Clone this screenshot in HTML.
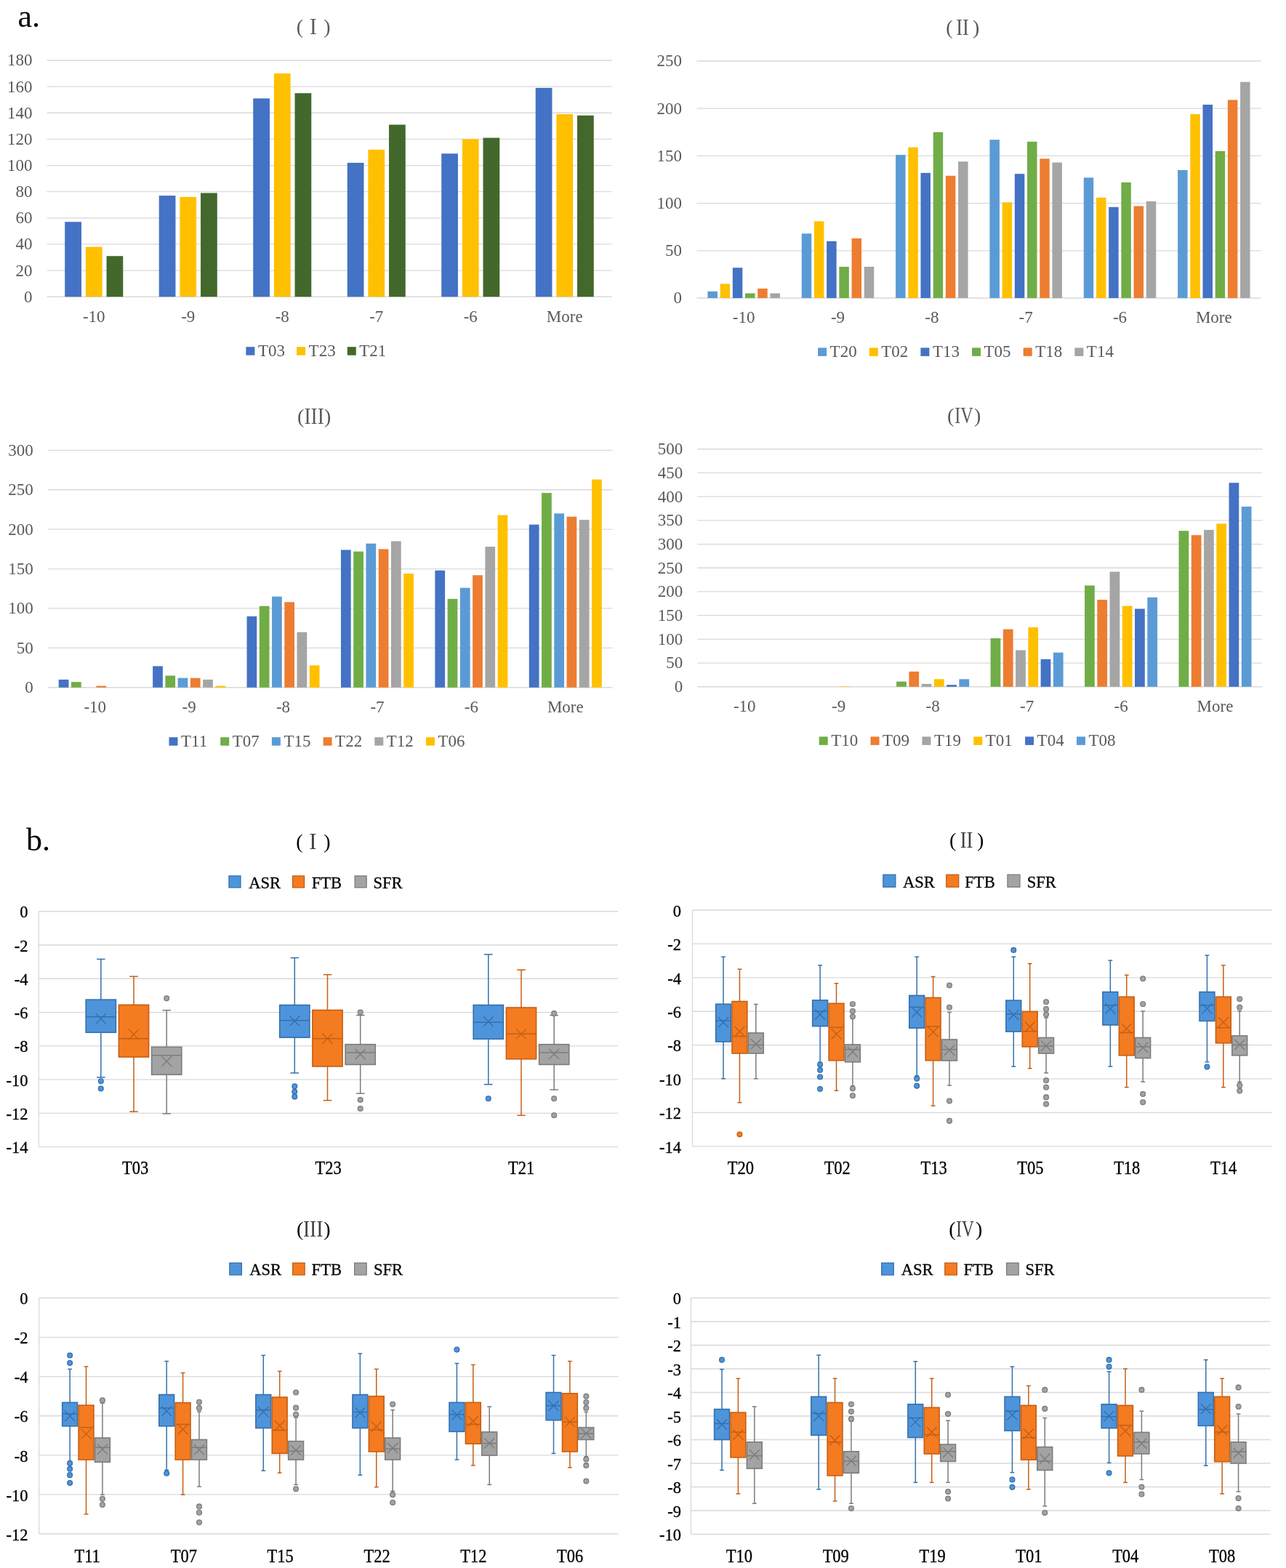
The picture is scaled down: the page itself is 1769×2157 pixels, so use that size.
<!DOCTYPE html>
<html><head><meta charset="utf-8"><title>Figure</title>
<style>html,body{margin:0;padding:0;background:#fff;}svg{display:block;}</style>
</head><body>
<svg width="1769" height="2157" viewBox="0 0 1769 2157" font-family="'Liberation Serif','Times New Roman',serif">
<rect width="1769" height="2157" fill="#fff"/>
<text x="24.5" y="37.2" font-size="44" fill="#000">a.</text>
<text x="36" y="1170" font-size="44" fill="#000">b.</text>
<line x1="64.5" y1="408.25" x2="841.5" y2="408.25" stroke="#d9d9d9" stroke-width="1.3"/>
<text transform="translate(44.5 415.65) scale(1 1.04)" font-size="23" fill="#595959" text-anchor="end">0</text>
<line x1="64.5" y1="372.11" x2="841.5" y2="372.11" stroke="#d9d9d9" stroke-width="1.3"/>
<text transform="translate(44.5 379.51) scale(1 1.04)" font-size="23" fill="#595959" text-anchor="end">20</text>
<line x1="64.5" y1="335.97" x2="841.5" y2="335.97" stroke="#d9d9d9" stroke-width="1.3"/>
<text transform="translate(44.5 343.37) scale(1 1.04)" font-size="23" fill="#595959" text-anchor="end">40</text>
<line x1="64.5" y1="299.83" x2="841.5" y2="299.83" stroke="#d9d9d9" stroke-width="1.3"/>
<text transform="translate(44.5 307.23) scale(1 1.04)" font-size="23" fill="#595959" text-anchor="end">60</text>
<line x1="64.5" y1="263.69" x2="841.5" y2="263.69" stroke="#d9d9d9" stroke-width="1.3"/>
<text transform="translate(44.5 271.09) scale(1 1.04)" font-size="23" fill="#595959" text-anchor="end">80</text>
<line x1="64.5" y1="227.55" x2="841.5" y2="227.55" stroke="#d9d9d9" stroke-width="1.3"/>
<text transform="translate(44.5 234.95) scale(1 1.04)" font-size="23" fill="#595959" text-anchor="end">100</text>
<line x1="64.5" y1="191.41" x2="841.5" y2="191.41" stroke="#d9d9d9" stroke-width="1.3"/>
<text transform="translate(44.5 198.81) scale(1 1.04)" font-size="23" fill="#595959" text-anchor="end">120</text>
<line x1="64.5" y1="155.27" x2="841.5" y2="155.27" stroke="#d9d9d9" stroke-width="1.3"/>
<text transform="translate(44.5 162.67) scale(1 1.04)" font-size="23" fill="#595959" text-anchor="end">140</text>
<line x1="64.5" y1="119.13" x2="841.5" y2="119.13" stroke="#d9d9d9" stroke-width="1.3"/>
<text transform="translate(44.5 126.53) scale(1 1.04)" font-size="23" fill="#595959" text-anchor="end">160</text>
<line x1="64.5" y1="82.99" x2="841.5" y2="82.99" stroke="#d9d9d9" stroke-width="1.3"/>
<text transform="translate(44.5 90.39) scale(1 1.04)" font-size="23" fill="#595959" text-anchor="end">180</text>
<rect x="89.22" y="305.25" width="22.75" height="103" fill="#4472C4"/>
<rect x="117.88" y="339.58" width="22.75" height="68.67" fill="#FFC000"/>
<rect x="146.52" y="352.23" width="22.75" height="56.02" fill="#43682B"/>
<text transform="translate(129.25 442.5) scale(1 1.04)" font-size="23" fill="#595959" text-anchor="middle">-10</text>
<rect x="218.72" y="269.11" width="22.75" height="139.14" fill="#4472C4"/>
<rect x="247.38" y="270.92" width="22.75" height="137.33" fill="#FFC000"/>
<rect x="276.02" y="265.5" width="22.75" height="142.75" fill="#43682B"/>
<text transform="translate(258.75 442.5) scale(1 1.04)" font-size="23" fill="#595959" text-anchor="middle">-9</text>
<rect x="348.23" y="135.39" width="22.75" height="272.86" fill="#4472C4"/>
<rect x="376.88" y="101.06" width="22.75" height="307.19" fill="#FFC000"/>
<rect x="405.53" y="128.17" width="22.75" height="280.08" fill="#43682B"/>
<text transform="translate(388.25 442.5) scale(1 1.04)" font-size="23" fill="#595959" text-anchor="middle">-8</text>
<rect x="477.73" y="223.94" width="22.75" height="184.31" fill="#4472C4"/>
<rect x="506.38" y="205.87" width="22.75" height="202.38" fill="#FFC000"/>
<rect x="535.02" y="171.53" width="22.75" height="236.72" fill="#43682B"/>
<text transform="translate(517.75 442.5) scale(1 1.04)" font-size="23" fill="#595959" text-anchor="middle">-7</text>
<rect x="607.23" y="211.29" width="22.75" height="196.96" fill="#4472C4"/>
<rect x="635.88" y="191.41" width="22.75" height="216.84" fill="#FFC000"/>
<rect x="664.52" y="189.6" width="22.75" height="218.65" fill="#43682B"/>
<text transform="translate(647.25 442.5) scale(1 1.04)" font-size="23" fill="#595959" text-anchor="middle">-6</text>
<rect x="736.73" y="120.94" width="22.75" height="287.31" fill="#4472C4"/>
<rect x="765.38" y="157.08" width="22.75" height="251.17" fill="#FFC000"/>
<rect x="794.02" y="158.88" width="22.75" height="249.37" fill="#43682B"/>
<text transform="translate(776.75 442.5) scale(1 1.04)" font-size="23" fill="#595959" text-anchor="middle">More</text>
<rect x="338.4" y="477.2" width="12" height="11.5" fill="#4472C4"/>
<text transform="translate(354.9 489.8) scale(1 1.04)" font-size="23" fill="#595959">T03</text>
<rect x="408.1" y="477.2" width="12" height="11.5" fill="#FFC000"/>
<text transform="translate(424.6 489.8) scale(1 1.04)" font-size="23" fill="#595959">T23</text>
<rect x="477.8" y="477.2" width="12" height="11.5" fill="#43682B"/>
<text transform="translate(494.3 489.8) scale(1 1.04)" font-size="23" fill="#595959">T21</text>
<text x="407.8" y="46" font-size="28" fill="#595959">(</text>
<text x="445.2" y="46" font-size="28" fill="#595959">)</text>
<text x="426.1" y="46.9" font-size="32.5" fill="#595959" textLength="9.7" lengthAdjust="spacingAndGlyphs">I</text>
<line x1="958.5" y1="410" x2="1734.5" y2="410" stroke="#d9d9d9" stroke-width="1.3"/>
<text transform="translate(938 417.4) scale(1 1.04)" font-size="23" fill="#595959" text-anchor="end">0</text>
<line x1="958.5" y1="344.8" x2="1734.5" y2="344.8" stroke="#d9d9d9" stroke-width="1.3"/>
<text transform="translate(938 352.2) scale(1 1.04)" font-size="23" fill="#595959" text-anchor="end">50</text>
<line x1="958.5" y1="279.6" x2="1734.5" y2="279.6" stroke="#d9d9d9" stroke-width="1.3"/>
<text transform="translate(938 287) scale(1 1.04)" font-size="23" fill="#595959" text-anchor="end">100</text>
<line x1="958.5" y1="214.4" x2="1734.5" y2="214.4" stroke="#d9d9d9" stroke-width="1.3"/>
<text transform="translate(938 221.8) scale(1 1.04)" font-size="23" fill="#595959" text-anchor="end">150</text>
<line x1="958.5" y1="149.2" x2="1734.5" y2="149.2" stroke="#d9d9d9" stroke-width="1.3"/>
<text transform="translate(938 156.6) scale(1 1.04)" font-size="23" fill="#595959" text-anchor="end">200</text>
<line x1="958.5" y1="84" x2="1734.5" y2="84" stroke="#d9d9d9" stroke-width="1.3"/>
<text transform="translate(938 91.4) scale(1 1.04)" font-size="23" fill="#595959" text-anchor="end">250</text>
<rect x="973.42" y="400.87" width="13.5" height="9.13" fill="#5B9BD5"/>
<rect x="990.62" y="390.44" width="13.5" height="19.56" fill="#FFC000"/>
<rect x="1007.82" y="368.27" width="13.5" height="41.73" fill="#4472C4"/>
<rect x="1025.02" y="403.48" width="13.5" height="6.52" fill="#70AD47"/>
<rect x="1042.22" y="396.96" width="13.5" height="13.04" fill="#ED7D31"/>
<rect x="1059.42" y="403.48" width="13.5" height="6.52" fill="#A5A5A5"/>
<text transform="translate(1023.17 443.75) scale(1 1.04)" font-size="23" fill="#595959" text-anchor="middle">-10</text>
<rect x="1102.75" y="321.33" width="13.5" height="88.67" fill="#5B9BD5"/>
<rect x="1119.95" y="304.38" width="13.5" height="105.62" fill="#FFC000"/>
<rect x="1137.15" y="331.76" width="13.5" height="78.24" fill="#4472C4"/>
<rect x="1154.35" y="366.97" width="13.5" height="43.03" fill="#70AD47"/>
<rect x="1171.55" y="327.85" width="13.5" height="82.15" fill="#ED7D31"/>
<rect x="1188.75" y="366.97" width="13.5" height="43.03" fill="#A5A5A5"/>
<text transform="translate(1152.5 443.75) scale(1 1.04)" font-size="23" fill="#595959" text-anchor="middle">-9</text>
<rect x="1232.08" y="213.1" width="13.5" height="196.9" fill="#5B9BD5"/>
<rect x="1249.28" y="202.66" width="13.5" height="207.34" fill="#FFC000"/>
<rect x="1266.48" y="237.87" width="13.5" height="172.13" fill="#4472C4"/>
<rect x="1283.68" y="181.8" width="13.5" height="228.2" fill="#70AD47"/>
<rect x="1300.88" y="241.78" width="13.5" height="168.22" fill="#ED7D31"/>
<rect x="1318.08" y="222.22" width="13.5" height="187.78" fill="#A5A5A5"/>
<text transform="translate(1281.83 443.75) scale(1 1.04)" font-size="23" fill="#595959" text-anchor="middle">-8</text>
<rect x="1361.42" y="192.23" width="13.5" height="217.77" fill="#5B9BD5"/>
<rect x="1378.62" y="278.3" width="13.5" height="131.7" fill="#FFC000"/>
<rect x="1395.82" y="239.18" width="13.5" height="170.82" fill="#4472C4"/>
<rect x="1413.02" y="194.84" width="13.5" height="215.16" fill="#70AD47"/>
<rect x="1430.22" y="218.31" width="13.5" height="191.69" fill="#ED7D31"/>
<rect x="1447.42" y="223.53" width="13.5" height="186.47" fill="#A5A5A5"/>
<text transform="translate(1411.17 443.75) scale(1 1.04)" font-size="23" fill="#595959" text-anchor="middle">-7</text>
<rect x="1490.75" y="244.39" width="13.5" height="165.61" fill="#5B9BD5"/>
<rect x="1507.95" y="271.78" width="13.5" height="138.22" fill="#FFC000"/>
<rect x="1525.15" y="284.82" width="13.5" height="125.18" fill="#4472C4"/>
<rect x="1542.35" y="250.91" width="13.5" height="159.09" fill="#70AD47"/>
<rect x="1559.55" y="283.51" width="13.5" height="126.49" fill="#ED7D31"/>
<rect x="1576.75" y="276.99" width="13.5" height="133.01" fill="#A5A5A5"/>
<text transform="translate(1540.5 443.75) scale(1 1.04)" font-size="23" fill="#595959" text-anchor="middle">-6</text>
<rect x="1620.08" y="233.96" width="13.5" height="176.04" fill="#5B9BD5"/>
<rect x="1637.28" y="157.02" width="13.5" height="252.98" fill="#FFC000"/>
<rect x="1654.48" y="143.98" width="13.5" height="266.02" fill="#4472C4"/>
<rect x="1671.68" y="207.88" width="13.5" height="202.12" fill="#70AD47"/>
<rect x="1688.88" y="137.46" width="13.5" height="272.54" fill="#ED7D31"/>
<rect x="1706.08" y="112.69" width="13.5" height="297.31" fill="#A5A5A5"/>
<text transform="translate(1669.83 443.75) scale(1 1.04)" font-size="23" fill="#595959" text-anchor="middle">More</text>
<rect x="1125.1" y="478.4" width="12" height="11.5" fill="#5B9BD5"/>
<text transform="translate(1141.6 491) scale(1 1.04)" font-size="23" fill="#595959">T20</text>
<rect x="1195.75" y="478.4" width="12" height="11.5" fill="#FFC000"/>
<text transform="translate(1212.25 491) scale(1 1.04)" font-size="23" fill="#595959">T02</text>
<rect x="1266.4" y="478.4" width="12" height="11.5" fill="#4472C4"/>
<text transform="translate(1282.9 491) scale(1 1.04)" font-size="23" fill="#595959">T13</text>
<rect x="1337.05" y="478.4" width="12" height="11.5" fill="#70AD47"/>
<text transform="translate(1353.55 491) scale(1 1.04)" font-size="23" fill="#595959">T05</text>
<rect x="1407.7" y="478.4" width="12" height="11.5" fill="#ED7D31"/>
<text transform="translate(1424.2 491) scale(1 1.04)" font-size="23" fill="#595959">T18</text>
<rect x="1478.35" y="478.4" width="12" height="11.5" fill="#A5A5A5"/>
<text transform="translate(1494.85 491) scale(1 1.04)" font-size="23" fill="#595959">T14</text>
<text x="1301.2" y="47" font-size="28" fill="#595959">(</text>
<text x="1338" y="47" font-size="28" fill="#595959">)</text>
<text x="1315.2" y="47.7" font-size="32.5" fill="#595959" textLength="17.7" lengthAdjust="spacingAndGlyphs">II</text>
<line x1="66" y1="945.75" x2="842.5" y2="945.75" stroke="#d9d9d9" stroke-width="1.3"/>
<text transform="translate(45.75 953.15) scale(1 1.04)" font-size="23" fill="#595959" text-anchor="end">0</text>
<line x1="66" y1="891.35" x2="842.5" y2="891.35" stroke="#d9d9d9" stroke-width="1.3"/>
<text transform="translate(45.75 898.75) scale(1 1.04)" font-size="23" fill="#595959" text-anchor="end">50</text>
<line x1="66" y1="836.95" x2="842.5" y2="836.95" stroke="#d9d9d9" stroke-width="1.3"/>
<text transform="translate(45.75 844.35) scale(1 1.04)" font-size="23" fill="#595959" text-anchor="end">100</text>
<line x1="66" y1="782.55" x2="842.5" y2="782.55" stroke="#d9d9d9" stroke-width="1.3"/>
<text transform="translate(45.75 789.95) scale(1 1.04)" font-size="23" fill="#595959" text-anchor="end">150</text>
<line x1="66" y1="728.15" x2="842.5" y2="728.15" stroke="#d9d9d9" stroke-width="1.3"/>
<text transform="translate(45.75 735.55) scale(1 1.04)" font-size="23" fill="#595959" text-anchor="end">200</text>
<line x1="66" y1="673.75" x2="842.5" y2="673.75" stroke="#d9d9d9" stroke-width="1.3"/>
<text transform="translate(45.75 681.15) scale(1 1.04)" font-size="23" fill="#595959" text-anchor="end">250</text>
<line x1="66" y1="619.35" x2="842.5" y2="619.35" stroke="#d9d9d9" stroke-width="1.3"/>
<text transform="translate(45.75 626.75) scale(1 1.04)" font-size="23" fill="#595959" text-anchor="end">300</text>
<rect x="80.71" y="934.87" width="13.75" height="10.88" fill="#4472C4"/>
<rect x="97.96" y="938.13" width="13.75" height="7.62" fill="#70AD47"/>
<rect x="132.46" y="943.57" width="13.75" height="2.18" fill="#ED7D31"/>
<text transform="translate(130.71 979.5) scale(1 1.04)" font-size="23" fill="#595959" text-anchor="middle">-10</text>
<rect x="210.12" y="916.37" width="13.75" height="29.38" fill="#4472C4"/>
<rect x="227.38" y="929.43" width="13.75" height="16.32" fill="#70AD47"/>
<rect x="244.62" y="932.69" width="13.75" height="13.06" fill="#5B9BD5"/>
<rect x="261.88" y="932.69" width="13.75" height="13.06" fill="#ED7D31"/>
<rect x="279.12" y="934.87" width="13.75" height="10.88" fill="#A5A5A5"/>
<rect x="296.38" y="943.57" width="13.75" height="2.18" fill="#FFC000"/>
<text transform="translate(260.12 979.5) scale(1 1.04)" font-size="23" fill="#595959" text-anchor="middle">-9</text>
<rect x="339.54" y="847.83" width="13.75" height="97.92" fill="#4472C4"/>
<rect x="356.79" y="833.69" width="13.75" height="112.06" fill="#70AD47"/>
<rect x="374.04" y="820.63" width="13.75" height="125.12" fill="#5B9BD5"/>
<rect x="391.29" y="828.25" width="13.75" height="117.5" fill="#ED7D31"/>
<rect x="408.54" y="869.59" width="13.75" height="76.16" fill="#A5A5A5"/>
<rect x="425.79" y="915.29" width="13.75" height="30.46" fill="#FFC000"/>
<text transform="translate(389.54 979.5) scale(1 1.04)" font-size="23" fill="#595959" text-anchor="middle">-8</text>
<rect x="468.96" y="756.44" width="13.75" height="189.31" fill="#4472C4"/>
<rect x="486.21" y="758.61" width="13.75" height="187.14" fill="#70AD47"/>
<rect x="503.46" y="747.73" width="13.75" height="198.02" fill="#5B9BD5"/>
<rect x="520.71" y="755.35" width="13.75" height="190.4" fill="#ED7D31"/>
<rect x="537.96" y="744.47" width="13.75" height="201.28" fill="#A5A5A5"/>
<rect x="555.21" y="789.08" width="13.75" height="156.67" fill="#FFC000"/>
<text transform="translate(518.96 979.5) scale(1 1.04)" font-size="23" fill="#595959" text-anchor="middle">-7</text>
<rect x="598.38" y="784.73" width="13.75" height="161.02" fill="#4472C4"/>
<rect x="615.62" y="823.89" width="13.75" height="121.86" fill="#70AD47"/>
<rect x="632.88" y="808.66" width="13.75" height="137.09" fill="#5B9BD5"/>
<rect x="650.12" y="791.25" width="13.75" height="154.5" fill="#ED7D31"/>
<rect x="667.38" y="752.09" width="13.75" height="193.66" fill="#A5A5A5"/>
<rect x="684.62" y="708.57" width="13.75" height="237.18" fill="#FFC000"/>
<text transform="translate(648.38 979.5) scale(1 1.04)" font-size="23" fill="#595959" text-anchor="middle">-6</text>
<rect x="727.79" y="721.62" width="13.75" height="224.13" fill="#4472C4"/>
<rect x="745.04" y="678.1" width="13.75" height="267.65" fill="#70AD47"/>
<rect x="762.29" y="706.39" width="13.75" height="239.36" fill="#5B9BD5"/>
<rect x="779.54" y="710.74" width="13.75" height="235.01" fill="#ED7D31"/>
<rect x="796.79" y="715.09" width="13.75" height="230.66" fill="#A5A5A5"/>
<rect x="814.04" y="659.61" width="13.75" height="286.14" fill="#FFC000"/>
<text transform="translate(777.79 979.5) scale(1 1.04)" font-size="23" fill="#595959" text-anchor="middle">More</text>
<rect x="232.5" y="1014.2" width="12" height="11.5" fill="#4472C4"/>
<text transform="translate(249 1026.8) scale(1 1.04)" font-size="23" fill="#595959">T11</text>
<rect x="303.2" y="1014.2" width="12" height="11.5" fill="#70AD47"/>
<text transform="translate(319.7 1026.8) scale(1 1.04)" font-size="23" fill="#595959">T07</text>
<rect x="373.9" y="1014.2" width="12" height="11.5" fill="#5B9BD5"/>
<text transform="translate(390.4 1026.8) scale(1 1.04)" font-size="23" fill="#595959">T15</text>
<rect x="444.6" y="1014.2" width="12" height="11.5" fill="#ED7D31"/>
<text transform="translate(461.1 1026.8) scale(1 1.04)" font-size="23" fill="#595959">T22</text>
<rect x="515.3" y="1014.2" width="12" height="11.5" fill="#A5A5A5"/>
<text transform="translate(531.8 1026.8) scale(1 1.04)" font-size="23" fill="#595959">T12</text>
<rect x="586" y="1014.2" width="12" height="11.5" fill="#FFC000"/>
<text transform="translate(602.5 1026.8) scale(1 1.04)" font-size="23" fill="#595959">T06</text>
<text x="409" y="582" font-size="28" fill="#595959">(</text>
<text x="446" y="582" font-size="28" fill="#595959">)</text>
<text x="418.4" y="582.8" font-size="32.5" fill="#595959" textLength="27.4" lengthAdjust="spacingAndGlyphs">III</text>
<line x1="959.5" y1="944.75" x2="1736.25" y2="944.75" stroke="#d9d9d9" stroke-width="1.3"/>
<text transform="translate(939.25 952.15) scale(1 1.04)" font-size="23" fill="#595959" text-anchor="end">0</text>
<line x1="959.5" y1="912.05" x2="1736.25" y2="912.05" stroke="#d9d9d9" stroke-width="1.3"/>
<text transform="translate(939.25 919.45) scale(1 1.04)" font-size="23" fill="#595959" text-anchor="end">50</text>
<line x1="959.5" y1="879.35" x2="1736.25" y2="879.35" stroke="#d9d9d9" stroke-width="1.3"/>
<text transform="translate(939.25 886.75) scale(1 1.04)" font-size="23" fill="#595959" text-anchor="end">100</text>
<line x1="959.5" y1="846.65" x2="1736.25" y2="846.65" stroke="#d9d9d9" stroke-width="1.3"/>
<text transform="translate(939.25 854.05) scale(1 1.04)" font-size="23" fill="#595959" text-anchor="end">150</text>
<line x1="959.5" y1="813.95" x2="1736.25" y2="813.95" stroke="#d9d9d9" stroke-width="1.3"/>
<text transform="translate(939.25 821.35) scale(1 1.04)" font-size="23" fill="#595959" text-anchor="end">200</text>
<line x1="959.5" y1="781.25" x2="1736.25" y2="781.25" stroke="#d9d9d9" stroke-width="1.3"/>
<text transform="translate(939.25 788.65) scale(1 1.04)" font-size="23" fill="#595959" text-anchor="end">250</text>
<line x1="959.5" y1="748.55" x2="1736.25" y2="748.55" stroke="#d9d9d9" stroke-width="1.3"/>
<text transform="translate(939.25 755.95) scale(1 1.04)" font-size="23" fill="#595959" text-anchor="end">300</text>
<line x1="959.5" y1="715.85" x2="1736.25" y2="715.85" stroke="#d9d9d9" stroke-width="1.3"/>
<text transform="translate(939.25 723.25) scale(1 1.04)" font-size="23" fill="#595959" text-anchor="end">350</text>
<line x1="959.5" y1="683.15" x2="1736.25" y2="683.15" stroke="#d9d9d9" stroke-width="1.3"/>
<text transform="translate(939.25 690.55) scale(1 1.04)" font-size="23" fill="#595959" text-anchor="end">400</text>
<line x1="959.5" y1="650.45" x2="1736.25" y2="650.45" stroke="#d9d9d9" stroke-width="1.3"/>
<text transform="translate(939.25 657.85) scale(1 1.04)" font-size="23" fill="#595959" text-anchor="end">450</text>
<line x1="959.5" y1="617.75" x2="1736.25" y2="617.75" stroke="#d9d9d9" stroke-width="1.3"/>
<text transform="translate(939.25 625.15) scale(1 1.04)" font-size="23" fill="#595959" text-anchor="end">500</text>
<text transform="translate(1024.23 978.75) scale(1 1.04)" font-size="23" fill="#595959" text-anchor="middle">-10</text>
<rect x="1155.44" y="944.1" width="13.75" height="0.65" fill="#FFC000"/>
<text transform="translate(1153.69 978.75) scale(1 1.04)" font-size="23" fill="#595959" text-anchor="middle">-9</text>
<rect x="1233.15" y="937.56" width="13.75" height="7.19" fill="#70AD47"/>
<rect x="1250.4" y="923.82" width="13.75" height="20.93" fill="#ED7D31"/>
<rect x="1267.65" y="940.83" width="13.75" height="3.92" fill="#A5A5A5"/>
<rect x="1284.9" y="934.29" width="13.75" height="10.46" fill="#FFC000"/>
<rect x="1302.15" y="942.13" width="13.75" height="2.62" fill="#4472C4"/>
<rect x="1319.4" y="934.29" width="13.75" height="10.46" fill="#5B9BD5"/>
<text transform="translate(1283.15 978.75) scale(1 1.04)" font-size="23" fill="#595959" text-anchor="middle">-8</text>
<rect x="1362.6" y="878.04" width="13.75" height="66.71" fill="#70AD47"/>
<rect x="1379.85" y="865.62" width="13.75" height="79.13" fill="#ED7D31"/>
<rect x="1397.1" y="894.39" width="13.75" height="50.36" fill="#A5A5A5"/>
<rect x="1414.35" y="863" width="13.75" height="81.75" fill="#FFC000"/>
<rect x="1431.6" y="906.82" width="13.75" height="37.93" fill="#4472C4"/>
<rect x="1448.85" y="897.66" width="13.75" height="47.09" fill="#5B9BD5"/>
<text transform="translate(1412.6 978.75) scale(1 1.04)" font-size="23" fill="#595959" text-anchor="middle">-7</text>
<rect x="1492.06" y="805.45" width="13.75" height="139.3" fill="#70AD47"/>
<rect x="1509.31" y="825.07" width="13.75" height="119.68" fill="#ED7D31"/>
<rect x="1526.56" y="786.48" width="13.75" height="158.27" fill="#A5A5A5"/>
<rect x="1543.81" y="833.57" width="13.75" height="111.18" fill="#FFC000"/>
<rect x="1561.06" y="837.49" width="13.75" height="107.26" fill="#4472C4"/>
<rect x="1578.31" y="821.8" width="13.75" height="122.95" fill="#5B9BD5"/>
<text transform="translate(1542.06 978.75) scale(1 1.04)" font-size="23" fill="#595959" text-anchor="middle">-6</text>
<rect x="1621.52" y="730.24" width="13.75" height="214.51" fill="#70AD47"/>
<rect x="1638.77" y="736.12" width="13.75" height="208.63" fill="#ED7D31"/>
<rect x="1656.02" y="728.93" width="13.75" height="215.82" fill="#A5A5A5"/>
<rect x="1673.27" y="720.43" width="13.75" height="224.32" fill="#FFC000"/>
<rect x="1690.52" y="664.18" width="13.75" height="280.57" fill="#4472C4"/>
<rect x="1707.77" y="696.88" width="13.75" height="247.87" fill="#5B9BD5"/>
<text transform="translate(1671.52 978.75) scale(1 1.04)" font-size="23" fill="#595959" text-anchor="middle">More</text>
<rect x="1126.7" y="1013.4" width="12" height="11.5" fill="#70AD47"/>
<text transform="translate(1143.2 1026) scale(1 1.04)" font-size="23" fill="#595959">T10</text>
<rect x="1197.55" y="1013.4" width="12" height="11.5" fill="#ED7D31"/>
<text transform="translate(1214.05 1026) scale(1 1.04)" font-size="23" fill="#595959">T09</text>
<rect x="1268.4" y="1013.4" width="12" height="11.5" fill="#A5A5A5"/>
<text transform="translate(1284.9 1026) scale(1 1.04)" font-size="23" fill="#595959">T19</text>
<rect x="1339.25" y="1013.4" width="12" height="11.5" fill="#FFC000"/>
<text transform="translate(1355.75 1026) scale(1 1.04)" font-size="23" fill="#595959">T01</text>
<rect x="1410.1" y="1013.4" width="12" height="11.5" fill="#4472C4"/>
<text transform="translate(1426.6 1026) scale(1 1.04)" font-size="23" fill="#595959">T04</text>
<rect x="1480.95" y="1013.4" width="12" height="11.5" fill="#5B9BD5"/>
<text transform="translate(1497.45 1026) scale(1 1.04)" font-size="23" fill="#595959">T08</text>
<text x="1302.9" y="580.8" font-size="28" fill="#595959">(</text>
<text x="1340" y="580.8" font-size="28" fill="#595959">)</text>
<text x="1313.2" y="581.7" font-size="32.5" fill="#595959" textLength="25.5" lengthAdjust="spacingAndGlyphs">IV</text>
<line x1="53.25" y1="1253.75" x2="850" y2="1253.75" stroke="#d9d9d9" stroke-width="1.3"/>
<text transform="translate(38.5 1262.45) scale(1 1.05)" font-size="22.5" fill="#000" text-anchor="end" stroke="#000" stroke-width="0.3">0</text>
<line x1="53.25" y1="1300.01" x2="850" y2="1300.01" stroke="#d9d9d9" stroke-width="1.3"/>
<text transform="translate(38.5 1308.71) scale(1 1.05)" font-size="22.5" fill="#000" text-anchor="end" stroke="#000" stroke-width="0.3">-2</text>
<line x1="53.25" y1="1346.27" x2="850" y2="1346.27" stroke="#d9d9d9" stroke-width="1.3"/>
<text transform="translate(38.5 1354.97) scale(1 1.05)" font-size="22.5" fill="#000" text-anchor="end" stroke="#000" stroke-width="0.3">-4</text>
<line x1="53.25" y1="1392.53" x2="850" y2="1392.53" stroke="#d9d9d9" stroke-width="1.3"/>
<text transform="translate(38.5 1401.23) scale(1 1.05)" font-size="22.5" fill="#000" text-anchor="end" stroke="#000" stroke-width="0.3">-6</text>
<line x1="53.25" y1="1438.79" x2="850" y2="1438.79" stroke="#d9d9d9" stroke-width="1.3"/>
<text transform="translate(38.5 1447.49) scale(1 1.05)" font-size="22.5" fill="#000" text-anchor="end" stroke="#000" stroke-width="0.3">-8</text>
<line x1="53.25" y1="1485.05" x2="850" y2="1485.05" stroke="#d9d9d9" stroke-width="1.3"/>
<text transform="translate(38.5 1493.75) scale(1 1.05)" font-size="22.5" fill="#000" text-anchor="end" stroke="#000" stroke-width="0.3">-10</text>
<line x1="53.25" y1="1531.31" x2="850" y2="1531.31" stroke="#d9d9d9" stroke-width="1.3"/>
<text transform="translate(38.5 1540.01) scale(1 1.05)" font-size="22.5" fill="#000" text-anchor="end" stroke="#000" stroke-width="0.3">-12</text>
<line x1="53.25" y1="1577.57" x2="850" y2="1577.57" stroke="#d9d9d9" stroke-width="1.3"/>
<text transform="translate(38.5 1586.27) scale(1 1.05)" font-size="22.5" fill="#000" text-anchor="end" stroke="#000" stroke-width="0.3">-14</text>
<line x1="53.25" y1="1253.75" x2="53.25" y2="1577.57" stroke="#d9d9d9" stroke-width="1.3"/>
<line x1="138.8" y1="1319.44" x2="138.8" y2="1375.18" stroke="#3470AE" stroke-width="1.5"/>
<line x1="138.8" y1="1420.29" x2="138.8" y2="1482.04" stroke="#3470AE" stroke-width="1.5"/>
<line x1="133.03" y1="1319.44" x2="144.57" y2="1319.44" stroke="#3470AE" stroke-width="1.5"/>
<line x1="133.03" y1="1482.04" x2="144.57" y2="1482.04" stroke="#3470AE" stroke-width="1.5"/>
<rect x="118.2" y="1375.18" width="41.2" height="45.1" fill="#4E94DA" stroke="#3470AE" stroke-width="1.6"/>
<line x1="118.2" y1="1398.78" x2="159.4" y2="1398.78" stroke="#3470AE" stroke-width="1.5"/>
<path d="M131.8 1394.32L145.8 1408.32M131.8 1408.32L145.8 1394.32" stroke="#3470AE" stroke-width="1.4" fill="none"/>
<circle cx="138.8" cy="1487.36" r="3.4" fill="#4E94DA" stroke="#3470AE" stroke-width="1.3"/>
<circle cx="138.8" cy="1497.54" r="3.4" fill="#4E94DA" stroke="#3470AE" stroke-width="1.3"/>
<line x1="184" y1="1343.26" x2="184" y2="1382.35" stroke="#C55F14" stroke-width="1.5"/>
<line x1="184" y1="1454.06" x2="184" y2="1529.23" stroke="#C55F14" stroke-width="1.5"/>
<line x1="178.23" y1="1343.26" x2="189.77" y2="1343.26" stroke="#C55F14" stroke-width="1.5"/>
<line x1="178.23" y1="1529.23" x2="189.77" y2="1529.23" stroke="#C55F14" stroke-width="1.5"/>
<rect x="163.4" y="1382.35" width="41.2" height="71.7" fill="#F47B20" stroke="#C55F14" stroke-width="1.6"/>
<line x1="163.4" y1="1428.84" x2="204.6" y2="1428.84" stroke="#C55F14" stroke-width="1.5"/>
<path d="M177 1416.06L191 1430.06M177 1430.06L191 1416.06" stroke="#C55F14" stroke-width="1.4" fill="none"/>
<line x1="229.2" y1="1389.75" x2="229.2" y2="1440.41" stroke="#7C7C7C" stroke-width="1.5"/>
<line x1="229.2" y1="1478.34" x2="229.2" y2="1532" stroke="#7C7C7C" stroke-width="1.5"/>
<line x1="223.43" y1="1389.75" x2="234.97" y2="1389.75" stroke="#7C7C7C" stroke-width="1.5"/>
<line x1="223.43" y1="1532" x2="234.97" y2="1532" stroke="#7C7C7C" stroke-width="1.5"/>
<rect x="208.6" y="1440.41" width="41.2" height="37.93" fill="#A3A3A3" stroke="#7C7C7C" stroke-width="1.6"/>
<line x1="208.6" y1="1451.74" x2="249.8" y2="1451.74" stroke="#7C7C7C" stroke-width="1.5"/>
<path d="M222.2 1453.07L236.2 1467.07M222.2 1467.07L236.2 1453.07" stroke="#7C7C7C" stroke-width="1.4" fill="none"/>
<circle cx="229.2" cy="1373.33" r="3.4" fill="#A3A3A3" stroke="#7C7C7C" stroke-width="1.3"/>
<text transform="translate(186.04 1615) scale(1 1.08)" font-size="22.5" fill="#000" text-anchor="middle" stroke="#000" stroke-width="0.3">T03</text>
<line x1="405.3" y1="1317.59" x2="405.3" y2="1382.58" stroke="#3470AE" stroke-width="1.5"/>
<line x1="405.3" y1="1427.22" x2="405.3" y2="1476.03" stroke="#3470AE" stroke-width="1.5"/>
<line x1="399.53" y1="1317.59" x2="411.07" y2="1317.59" stroke="#3470AE" stroke-width="1.5"/>
<line x1="399.53" y1="1476.03" x2="411.07" y2="1476.03" stroke="#3470AE" stroke-width="1.5"/>
<rect x="384.7" y="1382.58" width="41.2" height="44.64" fill="#4E94DA" stroke="#3470AE" stroke-width="1.6"/>
<line x1="384.7" y1="1403.86" x2="425.9" y2="1403.86" stroke="#3470AE" stroke-width="1.5"/>
<path d="M398.3 1397.56L412.3 1411.56M398.3 1411.56L412.3 1397.56" stroke="#3470AE" stroke-width="1.4" fill="none"/>
<circle cx="405.3" cy="1494.3" r="3.4" fill="#4E94DA" stroke="#3470AE" stroke-width="1.3"/>
<circle cx="405.3" cy="1501.7" r="3.4" fill="#4E94DA" stroke="#3470AE" stroke-width="1.3"/>
<circle cx="405.3" cy="1508.64" r="3.4" fill="#4E94DA" stroke="#3470AE" stroke-width="1.3"/>
<line x1="450.5" y1="1340.72" x2="450.5" y2="1389.52" stroke="#C55F14" stroke-width="1.5"/>
<line x1="450.5" y1="1467.01" x2="450.5" y2="1513.73" stroke="#C55F14" stroke-width="1.5"/>
<line x1="444.73" y1="1340.72" x2="456.27" y2="1340.72" stroke="#C55F14" stroke-width="1.5"/>
<line x1="444.73" y1="1513.73" x2="456.27" y2="1513.73" stroke="#C55F14" stroke-width="1.5"/>
<rect x="429.9" y="1389.52" width="41.2" height="77.49" fill="#F47B20" stroke="#C55F14" stroke-width="1.6"/>
<line x1="429.9" y1="1428.84" x2="471.1" y2="1428.84" stroke="#C55F14" stroke-width="1.5"/>
<path d="M443.5 1421.84L457.5 1435.84M443.5 1435.84L457.5 1421.84" stroke="#C55F14" stroke-width="1.4" fill="none"/>
<line x1="495.7" y1="1396.69" x2="495.7" y2="1436.71" stroke="#7C7C7C" stroke-width="1.5"/>
<line x1="495.7" y1="1464.46" x2="495.7" y2="1504.25" stroke="#7C7C7C" stroke-width="1.5"/>
<line x1="489.93" y1="1396.69" x2="501.47" y2="1396.69" stroke="#7C7C7C" stroke-width="1.5"/>
<line x1="489.93" y1="1504.25" x2="501.47" y2="1504.25" stroke="#7C7C7C" stroke-width="1.5"/>
<rect x="475.1" y="1436.71" width="41.2" height="27.76" fill="#A3A3A3" stroke="#7C7C7C" stroke-width="1.6"/>
<line x1="475.1" y1="1448.04" x2="516.3" y2="1448.04" stroke="#7C7C7C" stroke-width="1.5"/>
<path d="M488.7 1443.36L502.7 1457.36M488.7 1457.36L502.7 1443.36" stroke="#7C7C7C" stroke-width="1.4" fill="none"/>
<circle cx="495.7" cy="1392.53" r="3.4" fill="#A3A3A3" stroke="#7C7C7C" stroke-width="1.3"/>
<circle cx="495.7" cy="1513.04" r="3.4" fill="#A3A3A3" stroke="#7C7C7C" stroke-width="1.3"/>
<circle cx="495.7" cy="1525.06" r="3.4" fill="#A3A3A3" stroke="#7C7C7C" stroke-width="1.3"/>
<text transform="translate(451.62 1615) scale(1 1.08)" font-size="22.5" fill="#000" text-anchor="middle" stroke="#000" stroke-width="0.3">T23</text>
<line x1="671.8" y1="1312.96" x2="671.8" y2="1382.58" stroke="#3470AE" stroke-width="1.5"/>
<line x1="671.8" y1="1429.31" x2="671.8" y2="1491.76" stroke="#3470AE" stroke-width="1.5"/>
<line x1="666.03" y1="1312.96" x2="677.57" y2="1312.96" stroke="#3470AE" stroke-width="1.5"/>
<line x1="666.03" y1="1491.76" x2="677.57" y2="1491.76" stroke="#3470AE" stroke-width="1.5"/>
<rect x="651.2" y="1382.58" width="41.2" height="46.72" fill="#4E94DA" stroke="#3470AE" stroke-width="1.6"/>
<line x1="651.2" y1="1406.18" x2="692.4" y2="1406.18" stroke="#3470AE" stroke-width="1.5"/>
<path d="M664.8 1398.25L678.8 1412.25M664.8 1412.25L678.8 1398.25" stroke="#3470AE" stroke-width="1.4" fill="none"/>
<circle cx="671.8" cy="1511.19" r="3.4" fill="#4E94DA" stroke="#3470AE" stroke-width="1.3"/>
<line x1="717" y1="1334.24" x2="717" y2="1386.05" stroke="#C55F14" stroke-width="1.5"/>
<line x1="717" y1="1456.83" x2="717" y2="1534.32" stroke="#C55F14" stroke-width="1.5"/>
<line x1="711.23" y1="1334.24" x2="722.77" y2="1334.24" stroke="#C55F14" stroke-width="1.5"/>
<line x1="711.23" y1="1534.32" x2="722.77" y2="1534.32" stroke="#C55F14" stroke-width="1.5"/>
<rect x="696.4" y="1386.05" width="41.2" height="70.78" fill="#F47B20" stroke="#C55F14" stroke-width="1.6"/>
<line x1="696.4" y1="1422.37" x2="737.6" y2="1422.37" stroke="#C55F14" stroke-width="1.5"/>
<path d="M710 1415.37L724 1429.37M710 1429.37L724 1415.37" stroke="#C55F14" stroke-width="1.4" fill="none"/>
<line x1="762.2" y1="1396.69" x2="762.2" y2="1436.71" stroke="#7C7C7C" stroke-width="1.5"/>
<line x1="762.2" y1="1464.46" x2="762.2" y2="1499.16" stroke="#7C7C7C" stroke-width="1.5"/>
<line x1="756.43" y1="1396.69" x2="767.97" y2="1396.69" stroke="#7C7C7C" stroke-width="1.5"/>
<line x1="756.43" y1="1499.16" x2="767.97" y2="1499.16" stroke="#7C7C7C" stroke-width="1.5"/>
<rect x="741.6" y="1436.71" width="41.2" height="27.76" fill="#A3A3A3" stroke="#7C7C7C" stroke-width="1.6"/>
<line x1="741.6" y1="1448.04" x2="782.8" y2="1448.04" stroke="#7C7C7C" stroke-width="1.5"/>
<path d="M755.2 1442.89L769.2 1456.89M755.2 1456.89L769.2 1442.89" stroke="#7C7C7C" stroke-width="1.4" fill="none"/>
<circle cx="762.2" cy="1394.15" r="3.4" fill="#A3A3A3" stroke="#7C7C7C" stroke-width="1.3"/>
<circle cx="762.2" cy="1511.19" r="3.4" fill="#A3A3A3" stroke="#7C7C7C" stroke-width="1.3"/>
<circle cx="762.2" cy="1534.32" r="3.4" fill="#A3A3A3" stroke="#7C7C7C" stroke-width="1.3"/>
<text transform="translate(717.21 1615) scale(1 1.08)" font-size="22.5" fill="#000" text-anchor="middle" stroke="#000" stroke-width="0.3">T21</text>
<rect x="314.95" y="1204.95" width="16" height="16" fill="#4E94DA" stroke="#3470AE" stroke-width="1.3"/>
<text transform="translate(342.2 1221.6) scale(1 1.06)" font-size="22.6" fill="#000" stroke="#000" stroke-width="0.3">ASR</text>
<rect x="402.55" y="1204.95" width="16" height="16" fill="#F47B20" stroke="#C55F14" stroke-width="1.3"/>
<text transform="translate(428.7 1221.6) scale(1 1.06)" font-size="22.6" fill="#000" stroke="#000" stroke-width="0.3">FTB</text>
<rect x="488.15" y="1204.95" width="16" height="16" fill="#A3A3A3" stroke="#7C7C7C" stroke-width="1.3"/>
<text transform="translate(513.5 1221.6) scale(1 1.06)" font-size="22.6" fill="#000" stroke="#000" stroke-width="0.3">SFR</text>
<text x="407.2" y="1167" font-size="28" fill="#000">(</text>
<text x="445.2" y="1167" font-size="28" fill="#000">)</text>
<text x="425.3" y="1168.1" font-size="32.5" fill="#404040" textLength="10.2" lengthAdjust="spacingAndGlyphs">I</text>
<line x1="952.5" y1="1252" x2="1749.5" y2="1252" stroke="#d9d9d9" stroke-width="1.3"/>
<text transform="translate(937 1260.7) scale(1 1.05)" font-size="22.5" fill="#000" text-anchor="end" stroke="#000" stroke-width="0.3">0</text>
<line x1="952.5" y1="1298.42" x2="1749.5" y2="1298.42" stroke="#d9d9d9" stroke-width="1.3"/>
<text transform="translate(937 1307.12) scale(1 1.05)" font-size="22.5" fill="#000" text-anchor="end" stroke="#000" stroke-width="0.3">-2</text>
<line x1="952.5" y1="1344.84" x2="1749.5" y2="1344.84" stroke="#d9d9d9" stroke-width="1.3"/>
<text transform="translate(937 1353.54) scale(1 1.05)" font-size="22.5" fill="#000" text-anchor="end" stroke="#000" stroke-width="0.3">-4</text>
<line x1="952.5" y1="1391.26" x2="1749.5" y2="1391.26" stroke="#d9d9d9" stroke-width="1.3"/>
<text transform="translate(937 1399.96) scale(1 1.05)" font-size="22.5" fill="#000" text-anchor="end" stroke="#000" stroke-width="0.3">-6</text>
<line x1="952.5" y1="1437.68" x2="1749.5" y2="1437.68" stroke="#d9d9d9" stroke-width="1.3"/>
<text transform="translate(937 1446.38) scale(1 1.05)" font-size="22.5" fill="#000" text-anchor="end" stroke="#000" stroke-width="0.3">-8</text>
<line x1="952.5" y1="1484.1" x2="1749.5" y2="1484.1" stroke="#d9d9d9" stroke-width="1.3"/>
<text transform="translate(937 1492.8) scale(1 1.05)" font-size="22.5" fill="#000" text-anchor="end" stroke="#000" stroke-width="0.3">-10</text>
<line x1="952.5" y1="1530.52" x2="1749.5" y2="1530.52" stroke="#d9d9d9" stroke-width="1.3"/>
<text transform="translate(937 1539.22) scale(1 1.05)" font-size="22.5" fill="#000" text-anchor="end" stroke="#000" stroke-width="0.3">-12</text>
<line x1="952.5" y1="1576.94" x2="1749.5" y2="1576.94" stroke="#d9d9d9" stroke-width="1.3"/>
<text transform="translate(937 1585.64) scale(1 1.05)" font-size="22.5" fill="#000" text-anchor="end" stroke="#000" stroke-width="0.3">-14</text>
<line x1="952.5" y1="1252" x2="952.5" y2="1576.94" stroke="#d9d9d9" stroke-width="1.3"/>
<line x1="995.03" y1="1316.29" x2="995.03" y2="1381.28" stroke="#3470AE" stroke-width="1.5"/>
<line x1="995.03" y1="1433.04" x2="995.03" y2="1483.87" stroke="#3470AE" stroke-width="1.5"/>
<line x1="992.12" y1="1316.29" x2="997.94" y2="1316.29" stroke="#3470AE" stroke-width="1.5"/>
<line x1="992.12" y1="1483.87" x2="997.94" y2="1483.87" stroke="#3470AE" stroke-width="1.5"/>
<rect x="984.63" y="1381.28" width="20.8" height="51.76" fill="#4E94DA" stroke="#3470AE" stroke-width="1.6"/>
<line x1="984.63" y1="1404.26" x2="1005.43" y2="1404.26" stroke="#3470AE" stroke-width="1.5"/>
<path d="M988.03 1399.35L1002.03 1413.35M988.03 1413.35L1002.03 1399.35" stroke="#3470AE" stroke-width="1.4" fill="none"/>
<line x1="1017.43" y1="1333.23" x2="1017.43" y2="1377.57" stroke="#C55F14" stroke-width="1.5"/>
<line x1="1017.43" y1="1449.05" x2="1017.43" y2="1516.83" stroke="#C55F14" stroke-width="1.5"/>
<line x1="1014.52" y1="1333.23" x2="1020.34" y2="1333.23" stroke="#C55F14" stroke-width="1.5"/>
<line x1="1014.52" y1="1516.83" x2="1020.34" y2="1516.83" stroke="#C55F14" stroke-width="1.5"/>
<rect x="1007.03" y="1377.57" width="20.8" height="71.49" fill="#F47B20" stroke="#C55F14" stroke-width="1.6"/>
<line x1="1007.03" y1="1425.61" x2="1027.83" y2="1425.61" stroke="#C55F14" stroke-width="1.5"/>
<path d="M1010.43 1411.88L1024.43 1425.88M1010.43 1425.88L1024.43 1411.88" stroke="#C55F14" stroke-width="1.4" fill="none"/>
<circle cx="1017.43" cy="1560.46" r="3.4" fill="#F47B20" stroke="#C55F14" stroke-width="1.3"/>
<line x1="1039.83" y1="1381.51" x2="1039.83" y2="1420.97" stroke="#7C7C7C" stroke-width="1.5"/>
<line x1="1039.83" y1="1449.05" x2="1039.83" y2="1483.87" stroke="#7C7C7C" stroke-width="1.5"/>
<line x1="1036.92" y1="1381.51" x2="1042.74" y2="1381.51" stroke="#7C7C7C" stroke-width="1.5"/>
<line x1="1036.92" y1="1483.87" x2="1042.74" y2="1483.87" stroke="#7C7C7C" stroke-width="1.5"/>
<rect x="1029.43" y="1420.97" width="20.8" height="28.08" fill="#A3A3A3" stroke="#7C7C7C" stroke-width="1.6"/>
<line x1="1029.43" y1="1437.45" x2="1050.23" y2="1437.45" stroke="#7C7C7C" stroke-width="1.5"/>
<path d="M1032.83 1429.29L1046.83 1443.29M1032.83 1443.29L1046.83 1429.29" stroke="#7C7C7C" stroke-width="1.4" fill="none"/>
<text transform="translate(1018.92 1614.7) scale(1 1.08)" font-size="22.5" fill="#000" text-anchor="middle" stroke="#000" stroke-width="0.3">T20</text>
<line x1="1128.11" y1="1327.9" x2="1128.11" y2="1375.94" stroke="#3470AE" stroke-width="1.5"/>
<line x1="1128.11" y1="1411.68" x2="1128.11" y2="1461.35" stroke="#3470AE" stroke-width="1.5"/>
<line x1="1125.2" y1="1327.9" x2="1131.02" y2="1327.9" stroke="#3470AE" stroke-width="1.5"/>
<line x1="1125.2" y1="1461.35" x2="1131.02" y2="1461.35" stroke="#3470AE" stroke-width="1.5"/>
<rect x="1117.71" y="1375.94" width="20.8" height="35.74" fill="#4E94DA" stroke="#3470AE" stroke-width="1.6"/>
<line x1="1117.71" y1="1391.26" x2="1138.51" y2="1391.26" stroke="#3470AE" stroke-width="1.5"/>
<path d="M1121.11 1388.44L1135.11 1402.44M1121.11 1402.44L1135.11 1388.44" stroke="#3470AE" stroke-width="1.4" fill="none"/>
<circle cx="1128.11" cy="1464.6" r="3.4" fill="#4E94DA" stroke="#3470AE" stroke-width="1.3"/>
<circle cx="1128.11" cy="1472.03" r="3.4" fill="#4E94DA" stroke="#3470AE" stroke-width="1.3"/>
<circle cx="1128.11" cy="1481.55" r="3.4" fill="#4E94DA" stroke="#3470AE" stroke-width="1.3"/>
<circle cx="1128.11" cy="1498.03" r="3.4" fill="#4E94DA" stroke="#3470AE" stroke-width="1.3"/>
<line x1="1150.51" y1="1352.73" x2="1150.51" y2="1380.35" stroke="#C55F14" stroke-width="1.5"/>
<line x1="1150.51" y1="1458.8" x2="1150.51" y2="1500.35" stroke="#C55F14" stroke-width="1.5"/>
<line x1="1147.6" y1="1352.73" x2="1153.42" y2="1352.73" stroke="#C55F14" stroke-width="1.5"/>
<line x1="1147.6" y1="1500.35" x2="1153.42" y2="1500.35" stroke="#C55F14" stroke-width="1.5"/>
<rect x="1140.11" y="1380.35" width="20.8" height="78.45" fill="#F47B20" stroke="#C55F14" stroke-width="1.6"/>
<line x1="1140.11" y1="1413.31" x2="1160.91" y2="1413.31" stroke="#C55F14" stroke-width="1.5"/>
<path d="M1143.51 1415.59L1157.51 1429.59M1143.51 1429.59L1157.51 1415.59" stroke="#C55F14" stroke-width="1.4" fill="none"/>
<line x1="1172.91" y1="1400.08" x2="1172.91" y2="1436.98" stroke="#7C7C7C" stroke-width="1.5"/>
<line x1="1172.91" y1="1460.89" x2="1172.91" y2="1493.85" stroke="#7C7C7C" stroke-width="1.5"/>
<line x1="1170" y1="1400.08" x2="1175.82" y2="1400.08" stroke="#7C7C7C" stroke-width="1.5"/>
<line x1="1170" y1="1493.85" x2="1175.82" y2="1493.85" stroke="#7C7C7C" stroke-width="1.5"/>
<rect x="1162.51" y="1436.98" width="20.8" height="23.91" fill="#A3A3A3" stroke="#7C7C7C" stroke-width="1.6"/>
<line x1="1162.51" y1="1443.71" x2="1183.31" y2="1443.71" stroke="#7C7C7C" stroke-width="1.5"/>
<path d="M1165.91 1439.96L1179.91 1453.96M1165.91 1453.96L1179.91 1439.96" stroke="#7C7C7C" stroke-width="1.4" fill="none"/>
<circle cx="1172.91" cy="1381.28" r="3.4" fill="#A3A3A3" stroke="#7C7C7C" stroke-width="1.3"/>
<circle cx="1172.91" cy="1391.03" r="3.4" fill="#A3A3A3" stroke="#7C7C7C" stroke-width="1.3"/>
<circle cx="1172.91" cy="1398.46" r="3.4" fill="#A3A3A3" stroke="#7C7C7C" stroke-width="1.3"/>
<circle cx="1172.91" cy="1497.56" r="3.4" fill="#A3A3A3" stroke="#7C7C7C" stroke-width="1.3"/>
<circle cx="1172.91" cy="1507.31" r="3.4" fill="#A3A3A3" stroke="#7C7C7C" stroke-width="1.3"/>
<text transform="translate(1151.75 1614.7) scale(1 1.08)" font-size="22.5" fill="#000" text-anchor="middle" stroke="#000" stroke-width="0.3">T02</text>
<line x1="1261.19" y1="1316.29" x2="1261.19" y2="1369.44" stroke="#3470AE" stroke-width="1.5"/>
<line x1="1261.19" y1="1414.24" x2="1261.19" y2="1479.92" stroke="#3470AE" stroke-width="1.5"/>
<line x1="1258.28" y1="1316.29" x2="1264.1" y2="1316.29" stroke="#3470AE" stroke-width="1.5"/>
<line x1="1258.28" y1="1479.92" x2="1264.1" y2="1479.92" stroke="#3470AE" stroke-width="1.5"/>
<rect x="1250.79" y="1369.44" width="20.8" height="44.8" fill="#4E94DA" stroke="#3470AE" stroke-width="1.6"/>
<line x1="1250.79" y1="1385.46" x2="1271.59" y2="1385.46" stroke="#3470AE" stroke-width="1.5"/>
<path d="M1254.19 1385.42L1268.19 1399.42M1254.19 1399.42L1268.19 1385.42" stroke="#3470AE" stroke-width="1.4" fill="none"/>
<circle cx="1261.19" cy="1483.64" r="3.4" fill="#4E94DA" stroke="#3470AE" stroke-width="1.3"/>
<circle cx="1261.19" cy="1493.85" r="3.4" fill="#4E94DA" stroke="#3470AE" stroke-width="1.3"/>
<line x1="1283.59" y1="1343.45" x2="1283.59" y2="1372.46" stroke="#C55F14" stroke-width="1.5"/>
<line x1="1283.59" y1="1458.8" x2="1283.59" y2="1521.24" stroke="#C55F14" stroke-width="1.5"/>
<line x1="1280.68" y1="1343.45" x2="1286.5" y2="1343.45" stroke="#C55F14" stroke-width="1.5"/>
<line x1="1280.68" y1="1521.24" x2="1286.5" y2="1521.24" stroke="#C55F14" stroke-width="1.5"/>
<rect x="1273.19" y="1372.46" width="20.8" height="86.34" fill="#F47B20" stroke="#C55F14" stroke-width="1.6"/>
<line x1="1273.19" y1="1411.92" x2="1293.99" y2="1411.92" stroke="#C55F14" stroke-width="1.5"/>
<path d="M1276.59 1412.58L1290.59 1426.58M1276.59 1426.58L1290.59 1412.58" stroke="#C55F14" stroke-width="1.4" fill="none"/>
<line x1="1305.99" y1="1392.42" x2="1305.99" y2="1430.02" stroke="#7C7C7C" stroke-width="1.5"/>
<line x1="1305.99" y1="1459.03" x2="1305.99" y2="1493.15" stroke="#7C7C7C" stroke-width="1.5"/>
<line x1="1303.08" y1="1392.42" x2="1308.9" y2="1392.42" stroke="#7C7C7C" stroke-width="1.5"/>
<line x1="1303.08" y1="1493.15" x2="1308.9" y2="1493.15" stroke="#7C7C7C" stroke-width="1.5"/>
<rect x="1295.59" y="1430.02" width="20.8" height="29.01" fill="#A3A3A3" stroke="#7C7C7C" stroke-width="1.6"/>
<line x1="1295.59" y1="1443.71" x2="1316.39" y2="1443.71" stroke="#7C7C7C" stroke-width="1.5"/>
<path d="M1298.99 1437.64L1312.99 1451.64M1298.99 1451.64L1312.99 1437.64" stroke="#7C7C7C" stroke-width="1.4" fill="none"/>
<circle cx="1305.99" cy="1355.52" r="3.4" fill="#A3A3A3" stroke="#7C7C7C" stroke-width="1.3"/>
<circle cx="1305.99" cy="1385.69" r="3.4" fill="#A3A3A3" stroke="#7C7C7C" stroke-width="1.3"/>
<circle cx="1305.99" cy="1514.51" r="3.4" fill="#A3A3A3" stroke="#7C7C7C" stroke-width="1.3"/>
<circle cx="1305.99" cy="1541.89" r="3.4" fill="#A3A3A3" stroke="#7C7C7C" stroke-width="1.3"/>
<text transform="translate(1284.58 1614.7) scale(1 1.08)" font-size="22.5" fill="#000" text-anchor="middle" stroke="#000" stroke-width="0.3">T13</text>
<line x1="1394.27" y1="1316.29" x2="1394.27" y2="1376.17" stroke="#3470AE" stroke-width="1.5"/>
<line x1="1394.27" y1="1419.11" x2="1394.27" y2="1467.16" stroke="#3470AE" stroke-width="1.5"/>
<line x1="1391.36" y1="1316.29" x2="1397.18" y2="1316.29" stroke="#3470AE" stroke-width="1.5"/>
<line x1="1391.36" y1="1467.16" x2="1397.18" y2="1467.16" stroke="#3470AE" stroke-width="1.5"/>
<rect x="1383.87" y="1376.17" width="20.8" height="42.94" fill="#4E94DA" stroke="#3470AE" stroke-width="1.6"/>
<line x1="1383.87" y1="1394.97" x2="1404.67" y2="1394.97" stroke="#3470AE" stroke-width="1.5"/>
<path d="M1387.27 1388.9L1401.27 1402.9M1387.27 1402.9L1401.27 1388.9" stroke="#3470AE" stroke-width="1.4" fill="none"/>
<circle cx="1394.27" cy="1307.01" r="3.4" fill="#4E94DA" stroke="#3470AE" stroke-width="1.3"/>
<line x1="1416.67" y1="1325.58" x2="1416.67" y2="1391.49" stroke="#C55F14" stroke-width="1.5"/>
<line x1="1416.67" y1="1440" x2="1416.67" y2="1469.71" stroke="#C55F14" stroke-width="1.5"/>
<line x1="1413.76" y1="1325.58" x2="1419.58" y2="1325.58" stroke="#C55F14" stroke-width="1.5"/>
<line x1="1413.76" y1="1469.71" x2="1419.58" y2="1469.71" stroke="#C55F14" stroke-width="1.5"/>
<rect x="1406.27" y="1391.49" width="20.8" height="48.51" fill="#F47B20" stroke="#C55F14" stroke-width="1.6"/>
<line x1="1406.27" y1="1418.65" x2="1427.07" y2="1418.65" stroke="#C55F14" stroke-width="1.5"/>
<path d="M1409.67 1405.61L1423.67 1419.61M1409.67 1419.61L1423.67 1405.61" stroke="#C55F14" stroke-width="1.4" fill="none"/>
<line x1="1439.07" y1="1400.08" x2="1439.07" y2="1427.47" stroke="#7C7C7C" stroke-width="1.5"/>
<line x1="1439.07" y1="1449.05" x2="1439.07" y2="1475.98" stroke="#7C7C7C" stroke-width="1.5"/>
<line x1="1436.16" y1="1400.08" x2="1441.98" y2="1400.08" stroke="#7C7C7C" stroke-width="1.5"/>
<line x1="1436.16" y1="1475.98" x2="1441.98" y2="1475.98" stroke="#7C7C7C" stroke-width="1.5"/>
<rect x="1428.67" y="1427.47" width="20.8" height="21.59" fill="#A3A3A3" stroke="#7C7C7C" stroke-width="1.6"/>
<line x1="1428.67" y1="1438.84" x2="1449.47" y2="1438.84" stroke="#7C7C7C" stroke-width="1.5"/>
<path d="M1432.07 1431.84L1446.07 1445.84M1432.07 1445.84L1446.07 1431.84" stroke="#7C7C7C" stroke-width="1.4" fill="none"/>
<circle cx="1439.07" cy="1378.26" r="3.4" fill="#A3A3A3" stroke="#7C7C7C" stroke-width="1.3"/>
<circle cx="1439.07" cy="1388.01" r="3.4" fill="#A3A3A3" stroke="#7C7C7C" stroke-width="1.3"/>
<circle cx="1439.07" cy="1395.44" r="3.4" fill="#A3A3A3" stroke="#7C7C7C" stroke-width="1.3"/>
<circle cx="1439.07" cy="1486.19" r="3.4" fill="#A3A3A3" stroke="#7C7C7C" stroke-width="1.3"/>
<circle cx="1439.07" cy="1495.7" r="3.4" fill="#A3A3A3" stroke="#7C7C7C" stroke-width="1.3"/>
<circle cx="1439.07" cy="1509.4" r="3.4" fill="#A3A3A3" stroke="#7C7C7C" stroke-width="1.3"/>
<circle cx="1439.07" cy="1518.68" r="3.4" fill="#A3A3A3" stroke="#7C7C7C" stroke-width="1.3"/>
<text transform="translate(1417.42 1614.7) scale(1 1.08)" font-size="22.5" fill="#000" text-anchor="middle" stroke="#000" stroke-width="0.3">T05</text>
<line x1="1527.35" y1="1321.17" x2="1527.35" y2="1364.57" stroke="#3470AE" stroke-width="1.5"/>
<line x1="1527.35" y1="1410.06" x2="1527.35" y2="1467.16" stroke="#3470AE" stroke-width="1.5"/>
<line x1="1524.44" y1="1321.17" x2="1530.26" y2="1321.17" stroke="#3470AE" stroke-width="1.5"/>
<line x1="1524.44" y1="1467.16" x2="1530.26" y2="1467.16" stroke="#3470AE" stroke-width="1.5"/>
<rect x="1516.95" y="1364.57" width="20.8" height="45.49" fill="#4E94DA" stroke="#3470AE" stroke-width="1.6"/>
<line x1="1516.95" y1="1382.9" x2="1537.75" y2="1382.9" stroke="#3470AE" stroke-width="1.5"/>
<path d="M1520.35 1380.55L1534.35 1394.55M1520.35 1394.55L1534.35 1380.55" stroke="#3470AE" stroke-width="1.4" fill="none"/>
<line x1="1549.75" y1="1341.36" x2="1549.75" y2="1371.3" stroke="#C55F14" stroke-width="1.5"/>
<line x1="1549.75" y1="1451.84" x2="1549.75" y2="1495.7" stroke="#C55F14" stroke-width="1.5"/>
<line x1="1546.84" y1="1341.36" x2="1552.66" y2="1341.36" stroke="#C55F14" stroke-width="1.5"/>
<line x1="1546.84" y1="1495.7" x2="1552.66" y2="1495.7" stroke="#C55F14" stroke-width="1.5"/>
<rect x="1539.35" y="1371.3" width="20.8" height="80.54" fill="#F47B20" stroke="#C55F14" stroke-width="1.6"/>
<line x1="1539.35" y1="1420.5" x2="1560.15" y2="1420.5" stroke="#C55F14" stroke-width="1.5"/>
<path d="M1542.75 1407.93L1556.75 1421.93M1542.75 1421.93L1556.75 1407.93" stroke="#C55F14" stroke-width="1.4" fill="none"/>
<line x1="1572.15" y1="1391.03" x2="1572.15" y2="1427.47" stroke="#7C7C7C" stroke-width="1.5"/>
<line x1="1572.15" y1="1455.55" x2="1572.15" y2="1488.28" stroke="#7C7C7C" stroke-width="1.5"/>
<line x1="1569.24" y1="1391.03" x2="1575.06" y2="1391.03" stroke="#7C7C7C" stroke-width="1.5"/>
<line x1="1569.24" y1="1488.28" x2="1575.06" y2="1488.28" stroke="#7C7C7C" stroke-width="1.5"/>
<rect x="1561.75" y="1427.47" width="20.8" height="28.08" fill="#A3A3A3" stroke="#7C7C7C" stroke-width="1.6"/>
<line x1="1561.75" y1="1440" x2="1582.55" y2="1440" stroke="#7C7C7C" stroke-width="1.5"/>
<path d="M1565.15 1434.16L1579.15 1448.16M1565.15 1448.16L1579.15 1434.16" stroke="#7C7C7C" stroke-width="1.4" fill="none"/>
<circle cx="1572.15" cy="1346.23" r="3.4" fill="#A3A3A3" stroke="#7C7C7C" stroke-width="1.3"/>
<circle cx="1572.15" cy="1381.28" r="3.4" fill="#A3A3A3" stroke="#7C7C7C" stroke-width="1.3"/>
<circle cx="1572.15" cy="1504.99" r="3.4" fill="#A3A3A3" stroke="#7C7C7C" stroke-width="1.3"/>
<circle cx="1572.15" cy="1516.36" r="3.4" fill="#A3A3A3" stroke="#7C7C7C" stroke-width="1.3"/>
<text transform="translate(1550.25 1614.7) scale(1 1.08)" font-size="22.5" fill="#000" text-anchor="middle" stroke="#000" stroke-width="0.3">T18</text>
<line x1="1660.43" y1="1314.2" x2="1660.43" y2="1364.57" stroke="#3470AE" stroke-width="1.5"/>
<line x1="1660.43" y1="1404.49" x2="1660.43" y2="1460.89" stroke="#3470AE" stroke-width="1.5"/>
<line x1="1657.52" y1="1314.2" x2="1663.34" y2="1314.2" stroke="#3470AE" stroke-width="1.5"/>
<line x1="1657.52" y1="1460.89" x2="1663.34" y2="1460.89" stroke="#3470AE" stroke-width="1.5"/>
<rect x="1650.03" y="1364.57" width="20.8" height="39.92" fill="#4E94DA" stroke="#3470AE" stroke-width="1.6"/>
<line x1="1650.03" y1="1382.9" x2="1670.83" y2="1382.9" stroke="#3470AE" stroke-width="1.5"/>
<path d="M1653.43 1380.55L1667.43 1394.55M1653.43 1394.55L1667.43 1380.55" stroke="#3470AE" stroke-width="1.4" fill="none"/>
<circle cx="1660.43" cy="1467.62" r="3.4" fill="#4E94DA" stroke="#3470AE" stroke-width="1.3"/>
<line x1="1682.83" y1="1327.9" x2="1682.83" y2="1371.3" stroke="#C55F14" stroke-width="1.5"/>
<line x1="1682.83" y1="1434.89" x2="1682.83" y2="1495.7" stroke="#C55F14" stroke-width="1.5"/>
<line x1="1679.92" y1="1327.9" x2="1685.74" y2="1327.9" stroke="#C55F14" stroke-width="1.5"/>
<line x1="1679.92" y1="1495.7" x2="1685.74" y2="1495.7" stroke="#C55F14" stroke-width="1.5"/>
<rect x="1672.43" y="1371.3" width="20.8" height="63.6" fill="#F47B20" stroke="#C55F14" stroke-width="1.6"/>
<line x1="1672.43" y1="1413.77" x2="1693.23" y2="1413.77" stroke="#C55F14" stroke-width="1.5"/>
<path d="M1675.83 1399.35L1689.83 1413.35M1675.83 1413.35L1689.83 1399.35" stroke="#C55F14" stroke-width="1.4" fill="none"/>
<line x1="1705.23" y1="1391.03" x2="1705.23" y2="1424.91" stroke="#7C7C7C" stroke-width="1.5"/>
<line x1="1705.23" y1="1451.84" x2="1705.23" y2="1488.28" stroke="#7C7C7C" stroke-width="1.5"/>
<line x1="1702.32" y1="1391.03" x2="1708.14" y2="1391.03" stroke="#7C7C7C" stroke-width="1.5"/>
<line x1="1702.32" y1="1488.28" x2="1708.14" y2="1488.28" stroke="#7C7C7C" stroke-width="1.5"/>
<rect x="1694.83" y="1424.91" width="20.8" height="26.92" fill="#A3A3A3" stroke="#7C7C7C" stroke-width="1.6"/>
<line x1="1694.83" y1="1437.45" x2="1715.63" y2="1437.45" stroke="#7C7C7C" stroke-width="1.5"/>
<path d="M1698.23 1429.98L1712.23 1443.98M1698.23 1443.98L1712.23 1429.98" stroke="#7C7C7C" stroke-width="1.4" fill="none"/>
<circle cx="1705.23" cy="1374.32" r="3.4" fill="#A3A3A3" stroke="#7C7C7C" stroke-width="1.3"/>
<circle cx="1705.23" cy="1385.69" r="3.4" fill="#A3A3A3" stroke="#7C7C7C" stroke-width="1.3"/>
<circle cx="1705.23" cy="1493.15" r="3.4" fill="#A3A3A3" stroke="#7C7C7C" stroke-width="1.3"/>
<circle cx="1705.23" cy="1500.58" r="3.4" fill="#A3A3A3" stroke="#7C7C7C" stroke-width="1.3"/>
<text transform="translate(1683.08 1614.7) scale(1 1.08)" font-size="22.5" fill="#000" text-anchor="middle" stroke="#000" stroke-width="0.3">T14</text>
<rect x="1214.85" y="1203.25" width="17" height="17" fill="#4E94DA" stroke="#3470AE" stroke-width="1.3"/>
<text transform="translate(1241.9 1220.8) scale(1 1.06)" font-size="22.6" fill="#000" stroke="#000" stroke-width="0.3">ASR</text>
<rect x="1301.75" y="1203.25" width="17" height="17" fill="#F47B20" stroke="#C55F14" stroke-width="1.3"/>
<text transform="translate(1327.3 1220.8) scale(1 1.06)" font-size="22.6" fill="#000" stroke="#000" stroke-width="0.3">FTB</text>
<rect x="1385.95" y="1203.25" width="17" height="17" fill="#A3A3A3" stroke="#7C7C7C" stroke-width="1.3"/>
<text transform="translate(1412.7 1220.8) scale(1 1.06)" font-size="22.6" fill="#000" stroke="#000" stroke-width="0.3">SFR</text>
<text x="1306.1" y="1164.9" font-size="28" fill="#000">(</text>
<text x="1344" y="1164.9" font-size="28" fill="#000">)</text>
<text x="1320.7" y="1165.8" font-size="32.5" fill="#404040" textLength="17.7" lengthAdjust="spacingAndGlyphs">II</text>
<line x1="53.75" y1="1785.5" x2="850.5" y2="1785.5" stroke="#d9d9d9" stroke-width="1.3"/>
<text transform="translate(38.5 1794.2) scale(1 1.05)" font-size="22.5" fill="#000" text-anchor="end" stroke="#000" stroke-width="0.3">0</text>
<line x1="53.75" y1="1839.58" x2="850.5" y2="1839.58" stroke="#d9d9d9" stroke-width="1.3"/>
<text transform="translate(38.5 1848.28) scale(1 1.05)" font-size="22.5" fill="#000" text-anchor="end" stroke="#000" stroke-width="0.3">-2</text>
<line x1="53.75" y1="1893.66" x2="850.5" y2="1893.66" stroke="#d9d9d9" stroke-width="1.3"/>
<text transform="translate(38.5 1902.36) scale(1 1.05)" font-size="22.5" fill="#000" text-anchor="end" stroke="#000" stroke-width="0.3">-4</text>
<line x1="53.75" y1="1947.74" x2="850.5" y2="1947.74" stroke="#d9d9d9" stroke-width="1.3"/>
<text transform="translate(38.5 1956.44) scale(1 1.05)" font-size="22.5" fill="#000" text-anchor="end" stroke="#000" stroke-width="0.3">-6</text>
<line x1="53.75" y1="2001.82" x2="850.5" y2="2001.82" stroke="#d9d9d9" stroke-width="1.3"/>
<text transform="translate(38.5 2010.52) scale(1 1.05)" font-size="22.5" fill="#000" text-anchor="end" stroke="#000" stroke-width="0.3">-8</text>
<line x1="53.75" y1="2055.9" x2="850.5" y2="2055.9" stroke="#d9d9d9" stroke-width="1.3"/>
<text transform="translate(38.5 2064.6) scale(1 1.05)" font-size="22.5" fill="#000" text-anchor="end" stroke="#000" stroke-width="0.3">-10</text>
<line x1="53.75" y1="2109.98" x2="850.5" y2="2109.98" stroke="#d9d9d9" stroke-width="1.3"/>
<text transform="translate(38.5 2118.68) scale(1 1.05)" font-size="22.5" fill="#000" text-anchor="end" stroke="#000" stroke-width="0.3">-12</text>
<line x1="53.75" y1="1785.5" x2="53.75" y2="2109.98" stroke="#d9d9d9" stroke-width="1.3"/>
<line x1="96.12" y1="1883.38" x2="96.12" y2="1929.35" stroke="#3470AE" stroke-width="1.5"/>
<line x1="96.12" y1="1961.8" x2="96.12" y2="2011.28" stroke="#3470AE" stroke-width="1.5"/>
<line x1="93.21" y1="1883.38" x2="99.03" y2="1883.38" stroke="#3470AE" stroke-width="1.5"/>
<line x1="93.21" y1="2011.28" x2="99.03" y2="2011.28" stroke="#3470AE" stroke-width="1.5"/>
<rect x="85.72" y="1929.35" width="20.8" height="32.45" fill="#4E94DA" stroke="#3470AE" stroke-width="1.6"/>
<line x1="85.72" y1="1945.04" x2="106.52" y2="1945.04" stroke="#3470AE" stroke-width="1.5"/>
<path d="M89.12 1941.01L103.12 1955.01M89.12 1955.01L103.12 1941.01" stroke="#3470AE" stroke-width="1.4" fill="none"/>
<circle cx="96.12" cy="1864.46" r="3.4" fill="#4E94DA" stroke="#3470AE" stroke-width="1.3"/>
<circle cx="96.12" cy="1875" r="3.4" fill="#4E94DA" stroke="#3470AE" stroke-width="1.3"/>
<circle cx="96.12" cy="2012.91" r="3.4" fill="#4E94DA" stroke="#3470AE" stroke-width="1.3"/>
<circle cx="96.12" cy="2020.75" r="3.4" fill="#4E94DA" stroke="#3470AE" stroke-width="1.3"/>
<circle cx="96.12" cy="2029.13" r="3.4" fill="#4E94DA" stroke="#3470AE" stroke-width="1.3"/>
<circle cx="96.12" cy="2039.95" r="3.4" fill="#4E94DA" stroke="#3470AE" stroke-width="1.3"/>
<line x1="118.52" y1="1879.87" x2="118.52" y2="1933.14" stroke="#C55F14" stroke-width="1.5"/>
<line x1="118.52" y1="2008.04" x2="118.52" y2="2082.94" stroke="#C55F14" stroke-width="1.5"/>
<line x1="115.61" y1="1879.87" x2="121.43" y2="1879.87" stroke="#C55F14" stroke-width="1.5"/>
<line x1="115.61" y1="2082.94" x2="121.43" y2="2082.94" stroke="#C55F14" stroke-width="1.5"/>
<rect x="108.12" y="1933.14" width="20.8" height="74.9" fill="#F47B20" stroke="#C55F14" stroke-width="1.6"/>
<line x1="108.12" y1="1963.69" x2="128.92" y2="1963.69" stroke="#C55F14" stroke-width="1.5"/>
<path d="M111.52 1965.62L125.52 1979.62M111.52 1979.62L125.52 1965.62" stroke="#C55F14" stroke-width="1.4" fill="none"/>
<line x1="140.92" y1="1930.16" x2="140.92" y2="1978.02" stroke="#7C7C7C" stroke-width="1.5"/>
<line x1="140.92" y1="2011.28" x2="140.92" y2="2056.17" stroke="#7C7C7C" stroke-width="1.5"/>
<line x1="138.01" y1="1930.16" x2="143.83" y2="1930.16" stroke="#7C7C7C" stroke-width="1.5"/>
<line x1="138.01" y1="2056.17" x2="143.83" y2="2056.17" stroke="#7C7C7C" stroke-width="1.5"/>
<rect x="130.52" y="1978.02" width="20.8" height="33.26" fill="#A3A3A3" stroke="#7C7C7C" stroke-width="1.6"/>
<line x1="130.52" y1="1991.27" x2="151.32" y2="1991.27" stroke="#7C7C7C" stroke-width="1.5"/>
<path d="M133.92 1986.71L147.92 2000.71M133.92 2000.71L147.92 1986.71" stroke="#7C7C7C" stroke-width="1.4" fill="none"/>
<circle cx="140.92" cy="1926.38" r="3.4" fill="#A3A3A3" stroke="#7C7C7C" stroke-width="1.3"/>
<circle cx="140.92" cy="2061.85" r="3.4" fill="#A3A3A3" stroke="#7C7C7C" stroke-width="1.3"/>
<circle cx="140.92" cy="2069.96" r="3.4" fill="#A3A3A3" stroke="#7C7C7C" stroke-width="1.3"/>
<text transform="translate(120.15 2148.7) scale(1 1.08)" font-size="22.5" fill="#000" text-anchor="middle" stroke="#000" stroke-width="0.3">T11</text>
<line x1="229.2" y1="1872.57" x2="229.2" y2="1918.54" stroke="#3470AE" stroke-width="1.5"/>
<line x1="229.2" y1="1961.8" x2="229.2" y2="2022.37" stroke="#3470AE" stroke-width="1.5"/>
<line x1="226.29" y1="1872.57" x2="232.11" y2="1872.57" stroke="#3470AE" stroke-width="1.5"/>
<line x1="226.29" y1="2022.37" x2="232.11" y2="2022.37" stroke="#3470AE" stroke-width="1.5"/>
<rect x="218.8" y="1918.54" width="20.8" height="43.26" fill="#4E94DA" stroke="#3470AE" stroke-width="1.6"/>
<line x1="218.8" y1="1936.92" x2="239.6" y2="1936.92" stroke="#3470AE" stroke-width="1.5"/>
<path d="M222.2 1934.25L236.2 1948.25M222.2 1948.25L236.2 1934.25" stroke="#3470AE" stroke-width="1.4" fill="none"/>
<circle cx="229.2" cy="2026.7" r="3.4" fill="#4E94DA" stroke="#3470AE" stroke-width="1.3"/>
<line x1="251.6" y1="1888.52" x2="251.6" y2="1929.62" stroke="#C55F14" stroke-width="1.5"/>
<line x1="251.6" y1="2008.04" x2="251.6" y2="2056.17" stroke="#C55F14" stroke-width="1.5"/>
<line x1="248.69" y1="1888.52" x2="254.51" y2="1888.52" stroke="#C55F14" stroke-width="1.5"/>
<line x1="248.69" y1="2056.17" x2="254.51" y2="2056.17" stroke="#C55F14" stroke-width="1.5"/>
<rect x="241.2" y="1929.62" width="20.8" height="78.42" fill="#F47B20" stroke="#C55F14" stroke-width="1.6"/>
<line x1="241.2" y1="1959.37" x2="262" y2="1959.37" stroke="#C55F14" stroke-width="1.5"/>
<path d="M244.6 1959.13L258.6 1973.13M244.6 1973.13L258.6 1959.13" stroke="#C55F14" stroke-width="1.4" fill="none"/>
<line x1="274" y1="1942.06" x2="274" y2="1980.46" stroke="#7C7C7C" stroke-width="1.5"/>
<line x1="274" y1="2008.04" x2="274" y2="2045.08" stroke="#7C7C7C" stroke-width="1.5"/>
<line x1="271.09" y1="1942.06" x2="276.91" y2="1942.06" stroke="#7C7C7C" stroke-width="1.5"/>
<line x1="271.09" y1="2045.08" x2="276.91" y2="2045.08" stroke="#7C7C7C" stroke-width="1.5"/>
<rect x="263.6" y="1980.46" width="20.8" height="27.58" fill="#A3A3A3" stroke="#7C7C7C" stroke-width="1.6"/>
<line x1="263.6" y1="1991.27" x2="284.4" y2="1991.27" stroke="#7C7C7C" stroke-width="1.5"/>
<path d="M267 1987.25L281 2001.25M267 2001.25L281 1987.25" stroke="#7C7C7C" stroke-width="1.4" fill="none"/>
<circle cx="274" cy="1928.81" r="3.4" fill="#A3A3A3" stroke="#7C7C7C" stroke-width="1.3"/>
<circle cx="274" cy="1936.92" r="3.4" fill="#A3A3A3" stroke="#7C7C7C" stroke-width="1.3"/>
<circle cx="274" cy="2072.39" r="3.4" fill="#A3A3A3" stroke="#7C7C7C" stroke-width="1.3"/>
<circle cx="274" cy="2080.78" r="3.4" fill="#A3A3A3" stroke="#7C7C7C" stroke-width="1.3"/>
<circle cx="274" cy="2094.3" r="3.4" fill="#A3A3A3" stroke="#7C7C7C" stroke-width="1.3"/>
<text transform="translate(252.94 2148.7) scale(1 1.08)" font-size="22.5" fill="#000" text-anchor="middle" stroke="#000" stroke-width="0.3">T07</text>
<line x1="362.28" y1="1864.46" x2="362.28" y2="1918.54" stroke="#3470AE" stroke-width="1.5"/>
<line x1="362.28" y1="1964.5" x2="362.28" y2="2023.18" stroke="#3470AE" stroke-width="1.5"/>
<line x1="359.37" y1="1864.46" x2="365.19" y2="1864.46" stroke="#3470AE" stroke-width="1.5"/>
<line x1="359.37" y1="2023.18" x2="365.19" y2="2023.18" stroke="#3470AE" stroke-width="1.5"/>
<rect x="351.88" y="1918.54" width="20.8" height="45.97" fill="#4E94DA" stroke="#3470AE" stroke-width="1.6"/>
<line x1="351.88" y1="1939.63" x2="372.68" y2="1939.63" stroke="#3470AE" stroke-width="1.5"/>
<path d="M355.28 1935.33L369.28 1949.33M355.28 1949.33L369.28 1935.33" stroke="#3470AE" stroke-width="1.4" fill="none"/>
<line x1="384.68" y1="1886.36" x2="384.68" y2="1922.05" stroke="#C55F14" stroke-width="1.5"/>
<line x1="384.68" y1="1999.39" x2="384.68" y2="2026.16" stroke="#C55F14" stroke-width="1.5"/>
<line x1="381.77" y1="1886.36" x2="387.59" y2="1886.36" stroke="#C55F14" stroke-width="1.5"/>
<line x1="381.77" y1="2026.16" x2="387.59" y2="2026.16" stroke="#C55F14" stroke-width="1.5"/>
<rect x="374.28" y="1922.05" width="20.8" height="77.33" fill="#F47B20" stroke="#C55F14" stroke-width="1.6"/>
<line x1="374.28" y1="1967.48" x2="395.08" y2="1967.48" stroke="#C55F14" stroke-width="1.5"/>
<path d="M377.68 1954.26L391.68 1968.26M377.68 1968.26L391.68 1954.26" stroke="#C55F14" stroke-width="1.4" fill="none"/>
<line x1="407.08" y1="1949.9" x2="407.08" y2="1982.62" stroke="#7C7C7C" stroke-width="1.5"/>
<line x1="407.08" y1="2008.04" x2="407.08" y2="2042.38" stroke="#7C7C7C" stroke-width="1.5"/>
<line x1="404.17" y1="1949.9" x2="409.99" y2="1949.9" stroke="#7C7C7C" stroke-width="1.5"/>
<line x1="404.17" y1="2042.38" x2="409.99" y2="2042.38" stroke="#7C7C7C" stroke-width="1.5"/>
<rect x="396.68" y="1982.62" width="20.8" height="25.42" fill="#A3A3A3" stroke="#7C7C7C" stroke-width="1.6"/>
<line x1="396.68" y1="1996.14" x2="417.48" y2="1996.14" stroke="#7C7C7C" stroke-width="1.5"/>
<path d="M400.08 1988.06L414.08 2002.06M400.08 2002.06L414.08 1988.06" stroke="#7C7C7C" stroke-width="1.4" fill="none"/>
<circle cx="407.08" cy="1915.56" r="3.4" fill="#A3A3A3" stroke="#7C7C7C" stroke-width="1.3"/>
<circle cx="407.08" cy="1936.65" r="3.4" fill="#A3A3A3" stroke="#7C7C7C" stroke-width="1.3"/>
<circle cx="407.08" cy="1945.85" r="3.4" fill="#A3A3A3" stroke="#7C7C7C" stroke-width="1.3"/>
<circle cx="407.08" cy="2048.33" r="3.4" fill="#A3A3A3" stroke="#7C7C7C" stroke-width="1.3"/>
<text transform="translate(385.73 2148.7) scale(1 1.08)" font-size="22.5" fill="#000" text-anchor="middle" stroke="#000" stroke-width="0.3">T15</text>
<line x1="495.36" y1="1862.02" x2="495.36" y2="1918.54" stroke="#3470AE" stroke-width="1.5"/>
<line x1="495.36" y1="1964.5" x2="495.36" y2="2029.13" stroke="#3470AE" stroke-width="1.5"/>
<line x1="492.45" y1="1862.02" x2="498.27" y2="1862.02" stroke="#3470AE" stroke-width="1.5"/>
<line x1="492.45" y1="2029.13" x2="498.27" y2="2029.13" stroke="#3470AE" stroke-width="1.5"/>
<rect x="484.96" y="1918.54" width="20.8" height="45.97" fill="#4E94DA" stroke="#3470AE" stroke-width="1.6"/>
<line x1="484.96" y1="1942.6" x2="505.76" y2="1942.6" stroke="#3470AE" stroke-width="1.5"/>
<path d="M488.36 1936.14L502.36 1950.14M488.36 1950.14L502.36 1936.14" stroke="#3470AE" stroke-width="1.4" fill="none"/>
<line x1="517.76" y1="1883.38" x2="517.76" y2="1920.7" stroke="#C55F14" stroke-width="1.5"/>
<line x1="517.76" y1="1996.95" x2="517.76" y2="2045.62" stroke="#C55F14" stroke-width="1.5"/>
<line x1="514.85" y1="1883.38" x2="520.67" y2="1883.38" stroke="#C55F14" stroke-width="1.5"/>
<line x1="514.85" y1="2045.62" x2="520.67" y2="2045.62" stroke="#C55F14" stroke-width="1.5"/>
<rect x="507.36" y="1920.7" width="20.8" height="76.25" fill="#F47B20" stroke="#C55F14" stroke-width="1.6"/>
<line x1="507.36" y1="1966.94" x2="528.16" y2="1966.94" stroke="#C55F14" stroke-width="1.5"/>
<path d="M510.76 1955.61L524.76 1969.61M510.76 1969.61L524.76 1955.61" stroke="#C55F14" stroke-width="1.4" fill="none"/>
<line x1="540.16" y1="1939.63" x2="540.16" y2="1978.02" stroke="#7C7C7C" stroke-width="1.5"/>
<line x1="540.16" y1="2008.04" x2="540.16" y2="2051.3" stroke="#7C7C7C" stroke-width="1.5"/>
<line x1="537.25" y1="1939.63" x2="543.07" y2="1939.63" stroke="#7C7C7C" stroke-width="1.5"/>
<line x1="537.25" y1="2051.3" x2="543.07" y2="2051.3" stroke="#7C7C7C" stroke-width="1.5"/>
<rect x="529.76" y="1978.02" width="20.8" height="30.01" fill="#A3A3A3" stroke="#7C7C7C" stroke-width="1.6"/>
<line x1="529.76" y1="1993.17" x2="550.56" y2="1993.17" stroke="#7C7C7C" stroke-width="1.5"/>
<path d="M533.16 1985.09L547.16 1999.09M533.16 1999.09L547.16 1985.09" stroke="#7C7C7C" stroke-width="1.4" fill="none"/>
<circle cx="540.16" cy="1931.79" r="3.4" fill="#A3A3A3" stroke="#7C7C7C" stroke-width="1.3"/>
<circle cx="540.16" cy="2056.17" r="3.4" fill="#A3A3A3" stroke="#7C7C7C" stroke-width="1.3"/>
<circle cx="540.16" cy="2066.99" r="3.4" fill="#A3A3A3" stroke="#7C7C7C" stroke-width="1.3"/>
<text transform="translate(518.52 2148.7) scale(1 1.08)" font-size="22.5" fill="#000" text-anchor="middle" stroke="#000" stroke-width="0.3">T22</text>
<line x1="628.44" y1="1875.54" x2="628.44" y2="1929.35" stroke="#3470AE" stroke-width="1.5"/>
<line x1="628.44" y1="1969.37" x2="628.44" y2="2008.04" stroke="#3470AE" stroke-width="1.5"/>
<line x1="625.53" y1="1875.54" x2="631.35" y2="1875.54" stroke="#3470AE" stroke-width="1.5"/>
<line x1="625.53" y1="2008.04" x2="631.35" y2="2008.04" stroke="#3470AE" stroke-width="1.5"/>
<rect x="618.04" y="1929.35" width="20.8" height="40.02" fill="#4E94DA" stroke="#3470AE" stroke-width="1.6"/>
<line x1="618.04" y1="1945.85" x2="638.84" y2="1945.85" stroke="#3470AE" stroke-width="1.5"/>
<path d="M621.44 1939.39L635.44 1953.39M621.44 1953.39L635.44 1939.39" stroke="#3470AE" stroke-width="1.4" fill="none"/>
<circle cx="628.44" cy="1856.62" r="3.4" fill="#4E94DA" stroke="#3470AE" stroke-width="1.3"/>
<line x1="650.84" y1="1877.44" x2="650.84" y2="1929.35" stroke="#C55F14" stroke-width="1.5"/>
<line x1="650.84" y1="1986.14" x2="650.84" y2="2015.88" stroke="#C55F14" stroke-width="1.5"/>
<line x1="647.93" y1="1877.44" x2="653.75" y2="1877.44" stroke="#C55F14" stroke-width="1.5"/>
<line x1="647.93" y1="2015.88" x2="653.75" y2="2015.88" stroke="#C55F14" stroke-width="1.5"/>
<rect x="640.44" y="1929.35" width="20.8" height="56.78" fill="#F47B20" stroke="#C55F14" stroke-width="1.6"/>
<line x1="640.44" y1="1959.37" x2="661.24" y2="1959.37" stroke="#C55F14" stroke-width="1.5"/>
<path d="M643.84 1948.04L657.84 1962.04M643.84 1962.04L657.84 1948.04" stroke="#C55F14" stroke-width="1.4" fill="none"/>
<line x1="673.24" y1="1935.03" x2="673.24" y2="1969.91" stroke="#7C7C7C" stroke-width="1.5"/>
<line x1="673.24" y1="2002.09" x2="673.24" y2="2042.38" stroke="#7C7C7C" stroke-width="1.5"/>
<line x1="670.33" y1="1935.03" x2="676.15" y2="1935.03" stroke="#7C7C7C" stroke-width="1.5"/>
<line x1="670.33" y1="2042.38" x2="676.15" y2="2042.38" stroke="#7C7C7C" stroke-width="1.5"/>
<rect x="662.84" y="1969.91" width="20.8" height="32.18" fill="#A3A3A3" stroke="#7C7C7C" stroke-width="1.6"/>
<line x1="662.84" y1="1985.6" x2="683.64" y2="1985.6" stroke="#7C7C7C" stroke-width="1.5"/>
<path d="M666.24 1978.6L680.24 1992.6M666.24 1992.6L680.24 1978.6" stroke="#7C7C7C" stroke-width="1.4" fill="none"/>
<text transform="translate(651.31 2148.7) scale(1 1.08)" font-size="22.5" fill="#000" text-anchor="middle" stroke="#000" stroke-width="0.3">T12</text>
<line x1="761.52" y1="1864.46" x2="761.52" y2="1915.56" stroke="#3470AE" stroke-width="1.5"/>
<line x1="761.52" y1="1953.69" x2="761.52" y2="1999.39" stroke="#3470AE" stroke-width="1.5"/>
<line x1="758.61" y1="1864.46" x2="764.43" y2="1864.46" stroke="#3470AE" stroke-width="1.5"/>
<line x1="758.61" y1="1999.39" x2="764.43" y2="1999.39" stroke="#3470AE" stroke-width="1.5"/>
<rect x="751.12" y="1915.56" width="20.8" height="38.13" fill="#4E94DA" stroke="#3470AE" stroke-width="1.6"/>
<line x1="751.12" y1="1933.68" x2="771.92" y2="1933.68" stroke="#3470AE" stroke-width="1.5"/>
<path d="M754.52 1926.68L768.52 1940.68M754.52 1940.68L768.52 1926.68" stroke="#3470AE" stroke-width="1.4" fill="none"/>
<line x1="783.92" y1="1872.57" x2="783.92" y2="1916.91" stroke="#C55F14" stroke-width="1.5"/>
<line x1="783.92" y1="1996.95" x2="783.92" y2="2018.86" stroke="#C55F14" stroke-width="1.5"/>
<line x1="781.01" y1="1872.57" x2="786.83" y2="1872.57" stroke="#C55F14" stroke-width="1.5"/>
<line x1="781.01" y1="2018.86" x2="786.83" y2="2018.86" stroke="#C55F14" stroke-width="1.5"/>
<rect x="773.52" y="1916.91" width="20.8" height="80.04" fill="#F47B20" stroke="#C55F14" stroke-width="1.6"/>
<line x1="773.52" y1="1956.12" x2="794.32" y2="1956.12" stroke="#C55F14" stroke-width="1.5"/>
<path d="M776.92 1949.12L790.92 1963.12M776.92 1963.12L790.92 1949.12" stroke="#C55F14" stroke-width="1.4" fill="none"/>
<line x1="806.32" y1="1942.33" x2="806.32" y2="1963.69" stroke="#7C7C7C" stroke-width="1.5"/>
<line x1="806.32" y1="1980.46" x2="806.32" y2="2003.71" stroke="#7C7C7C" stroke-width="1.5"/>
<line x1="803.41" y1="1942.33" x2="809.23" y2="1942.33" stroke="#7C7C7C" stroke-width="1.5"/>
<line x1="803.41" y1="2003.71" x2="809.23" y2="2003.71" stroke="#7C7C7C" stroke-width="1.5"/>
<rect x="795.92" y="1963.69" width="20.8" height="16.76" fill="#A3A3A3" stroke="#7C7C7C" stroke-width="1.6"/>
<line x1="795.92" y1="1972.08" x2="816.72" y2="1972.08" stroke="#7C7C7C" stroke-width="1.5"/>
<path d="M799.32 1965.08L813.32 1979.08M799.32 1979.08L813.32 1965.08" stroke="#7C7C7C" stroke-width="1.4" fill="none"/>
<circle cx="806.32" cy="1920.7" r="3.4" fill="#A3A3A3" stroke="#7C7C7C" stroke-width="1.3"/>
<circle cx="806.32" cy="1929.08" r="3.4" fill="#A3A3A3" stroke="#7C7C7C" stroke-width="1.3"/>
<circle cx="806.32" cy="1936.92" r="3.4" fill="#A3A3A3" stroke="#7C7C7C" stroke-width="1.3"/>
<circle cx="806.32" cy="2007.5" r="3.4" fill="#A3A3A3" stroke="#7C7C7C" stroke-width="1.3"/>
<circle cx="806.32" cy="2015.88" r="3.4" fill="#A3A3A3" stroke="#7C7C7C" stroke-width="1.3"/>
<circle cx="806.32" cy="2037.51" r="3.4" fill="#A3A3A3" stroke="#7C7C7C" stroke-width="1.3"/>
<text transform="translate(784.1 2148.7) scale(1 1.08)" font-size="22.5" fill="#000" text-anchor="middle" stroke="#000" stroke-width="0.3">T06</text>
<rect x="315.85" y="1737.35" width="16.5" height="16.5" fill="#4E94DA" stroke="#3470AE" stroke-width="1.3"/>
<text transform="translate(343.2 1753.8) scale(1 1.06)" font-size="22.6" fill="#000" stroke="#000" stroke-width="0.3">ASR</text>
<rect x="402.65" y="1737.35" width="16.5" height="16.5" fill="#F47B20" stroke="#C55F14" stroke-width="1.3"/>
<text transform="translate(428.6 1753.8) scale(1 1.06)" font-size="22.6" fill="#000" stroke="#000" stroke-width="0.3">FTB</text>
<rect x="487.65" y="1737.35" width="16.5" height="16.5" fill="#A3A3A3" stroke="#7C7C7C" stroke-width="1.3"/>
<text transform="translate(513.9 1753.8) scale(1 1.06)" font-size="22.6" fill="#000" stroke="#000" stroke-width="0.3">SFR</text>
<text x="408.1" y="1699.8" font-size="28" fill="#000">(</text>
<text x="445.2" y="1699.8" font-size="28" fill="#000">)</text>
<text x="416.9" y="1701" font-size="32.5" fill="#404040" textLength="27.6" lengthAdjust="spacingAndGlyphs">III</text>
<line x1="950.5" y1="1785.5" x2="1747.5" y2="1785.5" stroke="#d9d9d9" stroke-width="1.3"/>
<text transform="translate(937 1794.2) scale(1 1.05)" font-size="22.5" fill="#000" text-anchor="end" stroke="#000" stroke-width="0.3">0</text>
<line x1="950.5" y1="1818" x2="1747.5" y2="1818" stroke="#d9d9d9" stroke-width="1.3"/>
<text transform="translate(937 1826.7) scale(1 1.05)" font-size="22.5" fill="#000" text-anchor="end" stroke="#000" stroke-width="0.3">-1</text>
<line x1="950.5" y1="1850.5" x2="1747.5" y2="1850.5" stroke="#d9d9d9" stroke-width="1.3"/>
<text transform="translate(937 1859.2) scale(1 1.05)" font-size="22.5" fill="#000" text-anchor="end" stroke="#000" stroke-width="0.3">-2</text>
<line x1="950.5" y1="1883" x2="1747.5" y2="1883" stroke="#d9d9d9" stroke-width="1.3"/>
<text transform="translate(937 1891.7) scale(1 1.05)" font-size="22.5" fill="#000" text-anchor="end" stroke="#000" stroke-width="0.3">-3</text>
<line x1="950.5" y1="1915.5" x2="1747.5" y2="1915.5" stroke="#d9d9d9" stroke-width="1.3"/>
<text transform="translate(937 1924.2) scale(1 1.05)" font-size="22.5" fill="#000" text-anchor="end" stroke="#000" stroke-width="0.3">-4</text>
<line x1="950.5" y1="1948" x2="1747.5" y2="1948" stroke="#d9d9d9" stroke-width="1.3"/>
<text transform="translate(937 1956.7) scale(1 1.05)" font-size="22.5" fill="#000" text-anchor="end" stroke="#000" stroke-width="0.3">-5</text>
<line x1="950.5" y1="1980.5" x2="1747.5" y2="1980.5" stroke="#d9d9d9" stroke-width="1.3"/>
<text transform="translate(937 1989.2) scale(1 1.05)" font-size="22.5" fill="#000" text-anchor="end" stroke="#000" stroke-width="0.3">-6</text>
<line x1="950.5" y1="2013" x2="1747.5" y2="2013" stroke="#d9d9d9" stroke-width="1.3"/>
<text transform="translate(937 2021.7) scale(1 1.05)" font-size="22.5" fill="#000" text-anchor="end" stroke="#000" stroke-width="0.3">-7</text>
<line x1="950.5" y1="2045.5" x2="1747.5" y2="2045.5" stroke="#d9d9d9" stroke-width="1.3"/>
<text transform="translate(937 2054.2) scale(1 1.05)" font-size="22.5" fill="#000" text-anchor="end" stroke="#000" stroke-width="0.3">-8</text>
<line x1="950.5" y1="2078" x2="1747.5" y2="2078" stroke="#d9d9d9" stroke-width="1.3"/>
<text transform="translate(937 2086.7) scale(1 1.05)" font-size="22.5" fill="#000" text-anchor="end" stroke="#000" stroke-width="0.3">-9</text>
<line x1="950.5" y1="2110.5" x2="1747.5" y2="2110.5" stroke="#d9d9d9" stroke-width="1.3"/>
<text transform="translate(937 2119.2) scale(1 1.05)" font-size="22.5" fill="#000" text-anchor="end" stroke="#000" stroke-width="0.3">-10</text>
<line x1="950.5" y1="1785.5" x2="950.5" y2="2110.5" stroke="#d9d9d9" stroke-width="1.3"/>
<line x1="993" y1="1883.65" x2="993" y2="1938.58" stroke="#3470AE" stroke-width="1.5"/>
<line x1="993" y1="1980.5" x2="993" y2="2022.42" stroke="#3470AE" stroke-width="1.5"/>
<line x1="990.09" y1="1883.65" x2="995.91" y2="1883.65" stroke="#3470AE" stroke-width="1.5"/>
<line x1="990.09" y1="2022.42" x2="995.91" y2="2022.42" stroke="#3470AE" stroke-width="1.5"/>
<rect x="982.6" y="1938.58" width="20.8" height="41.92" fill="#4E94DA" stroke="#3470AE" stroke-width="1.6"/>
<line x1="982.6" y1="1958.4" x2="1003.4" y2="1958.4" stroke="#3470AE" stroke-width="1.5"/>
<path d="M986 1952.38L1000 1966.38M986 1966.38L1000 1952.38" stroke="#3470AE" stroke-width="1.4" fill="none"/>
<circle cx="993" cy="1870.65" r="3.4" fill="#4E94DA" stroke="#3470AE" stroke-width="1.3"/>
<line x1="1015.4" y1="1896.33" x2="1015.4" y2="1943.12" stroke="#C55F14" stroke-width="1.5"/>
<line x1="1015.4" y1="2004.88" x2="1015.4" y2="2054.93" stroke="#C55F14" stroke-width="1.5"/>
<line x1="1012.49" y1="1896.33" x2="1018.31" y2="1896.33" stroke="#C55F14" stroke-width="1.5"/>
<line x1="1012.49" y1="2054.93" x2="1018.31" y2="2054.93" stroke="#C55F14" stroke-width="1.5"/>
<rect x="1005" y="1943.12" width="20.8" height="61.75" fill="#F47B20" stroke="#C55F14" stroke-width="1.6"/>
<line x1="1005" y1="1970.1" x2="1025.8" y2="1970.1" stroke="#C55F14" stroke-width="1.5"/>
<path d="M1008.4 1966.67L1022.4 1980.67M1008.4 1980.67L1022.4 1966.67" stroke="#C55F14" stroke-width="1.4" fill="none"/>
<line x1="1037.8" y1="1935" x2="1037.8" y2="1983.75" stroke="#7C7C7C" stroke-width="1.5"/>
<line x1="1037.8" y1="2020.15" x2="1037.8" y2="2068.25" stroke="#7C7C7C" stroke-width="1.5"/>
<line x1="1034.89" y1="1935" x2="1040.71" y2="1935" stroke="#7C7C7C" stroke-width="1.5"/>
<line x1="1034.89" y1="2068.25" x2="1040.71" y2="2068.25" stroke="#7C7C7C" stroke-width="1.5"/>
<rect x="1027.4" y="1983.75" width="20.8" height="36.4" fill="#A3A3A3" stroke="#7C7C7C" stroke-width="1.6"/>
<line x1="1027.4" y1="2002.6" x2="1048.2" y2="2002.6" stroke="#7C7C7C" stroke-width="1.5"/>
<path d="M1030.8 1994.3L1044.8 2008.3M1030.8 2008.3L1044.8 1994.3" stroke="#7C7C7C" stroke-width="1.4" fill="none"/>
<text transform="translate(1016.92 2148.7) scale(1 1.08)" font-size="22.5" fill="#000" text-anchor="middle" stroke="#000" stroke-width="0.3">T10</text>
<line x1="1126.15" y1="1864.15" x2="1126.15" y2="1921.35" stroke="#3470AE" stroke-width="1.5"/>
<line x1="1126.15" y1="1974.33" x2="1126.15" y2="2048.75" stroke="#3470AE" stroke-width="1.5"/>
<line x1="1123.24" y1="1864.15" x2="1129.06" y2="1864.15" stroke="#3470AE" stroke-width="1.5"/>
<line x1="1123.24" y1="2048.75" x2="1129.06" y2="2048.75" stroke="#3470AE" stroke-width="1.5"/>
<rect x="1115.75" y="1921.35" width="20.8" height="52.98" fill="#4E94DA" stroke="#3470AE" stroke-width="1.6"/>
<line x1="1115.75" y1="1944.42" x2="1136.55" y2="1944.42" stroke="#3470AE" stroke-width="1.5"/>
<path d="M1119.15 1941L1133.15 1955M1119.15 1955L1133.15 1941" stroke="#3470AE" stroke-width="1.4" fill="none"/>
<line x1="1148.55" y1="1896.33" x2="1148.55" y2="1929.47" stroke="#C55F14" stroke-width="1.5"/>
<line x1="1148.55" y1="2029.9" x2="1148.55" y2="2065" stroke="#C55F14" stroke-width="1.5"/>
<line x1="1145.64" y1="1896.33" x2="1151.46" y2="1896.33" stroke="#C55F14" stroke-width="1.5"/>
<line x1="1145.64" y1="2065" x2="1151.46" y2="2065" stroke="#C55F14" stroke-width="1.5"/>
<rect x="1138.15" y="1929.47" width="20.8" height="100.43" fill="#F47B20" stroke="#C55F14" stroke-width="1.6"/>
<line x1="1138.15" y1="1983.75" x2="1158.95" y2="1983.75" stroke="#C55F14" stroke-width="1.5"/>
<path d="M1141.55 1974.15L1155.55 1988.15M1141.55 1988.15L1155.55 1974.15" stroke="#C55F14" stroke-width="1.4" fill="none"/>
<line x1="1170.95" y1="1955.15" x2="1170.95" y2="1996.75" stroke="#7C7C7C" stroke-width="1.5"/>
<line x1="1170.95" y1="2026.33" x2="1170.95" y2="2068.25" stroke="#7C7C7C" stroke-width="1.5"/>
<line x1="1168.04" y1="1955.15" x2="1173.86" y2="1955.15" stroke="#7C7C7C" stroke-width="1.5"/>
<line x1="1168.04" y1="2068.25" x2="1173.86" y2="2068.25" stroke="#7C7C7C" stroke-width="1.5"/>
<rect x="1160.55" y="1996.75" width="20.8" height="29.58" fill="#A3A3A3" stroke="#7C7C7C" stroke-width="1.6"/>
<line x1="1160.55" y1="2010.08" x2="1181.35" y2="2010.08" stroke="#7C7C7C" stroke-width="1.5"/>
<path d="M1163.95 2002.75L1177.95 2016.75M1163.95 2016.75L1177.95 2002.75" stroke="#7C7C7C" stroke-width="1.4" fill="none"/>
<circle cx="1170.95" cy="1931.75" r="3.4" fill="#A3A3A3" stroke="#7C7C7C" stroke-width="1.3"/>
<circle cx="1170.95" cy="1941.83" r="3.4" fill="#A3A3A3" stroke="#7C7C7C" stroke-width="1.3"/>
<circle cx="1170.95" cy="1951.9" r="3.4" fill="#A3A3A3" stroke="#7C7C7C" stroke-width="1.3"/>
<circle cx="1170.95" cy="2075.07" r="3.4" fill="#A3A3A3" stroke="#7C7C7C" stroke-width="1.3"/>
<text transform="translate(1149.75 2148.7) scale(1 1.08)" font-size="22.5" fill="#000" text-anchor="middle" stroke="#000" stroke-width="0.3">T09</text>
<line x1="1259.3" y1="1872.92" x2="1259.3" y2="1931.75" stroke="#3470AE" stroke-width="1.5"/>
<line x1="1259.3" y1="1977.58" x2="1259.3" y2="2039.33" stroke="#3470AE" stroke-width="1.5"/>
<line x1="1256.39" y1="1872.92" x2="1262.21" y2="1872.92" stroke="#3470AE" stroke-width="1.5"/>
<line x1="1256.39" y1="2039.33" x2="1262.21" y2="2039.33" stroke="#3470AE" stroke-width="1.5"/>
<rect x="1248.9" y="1931.75" width="20.8" height="45.83" fill="#4E94DA" stroke="#3470AE" stroke-width="1.6"/>
<line x1="1248.9" y1="1950.6" x2="1269.7" y2="1950.6" stroke="#3470AE" stroke-width="1.5"/>
<path d="M1252.3 1949.12L1266.3 1963.12M1252.3 1963.12L1266.3 1949.12" stroke="#3470AE" stroke-width="1.4" fill="none"/>
<line x1="1281.7" y1="1896.33" x2="1281.7" y2="1936.3" stroke="#C55F14" stroke-width="1.5"/>
<line x1="1281.7" y1="2000" x2="1281.7" y2="2039.33" stroke="#C55F14" stroke-width="1.5"/>
<line x1="1278.79" y1="1896.33" x2="1284.61" y2="1896.33" stroke="#C55F14" stroke-width="1.5"/>
<line x1="1278.79" y1="2039.33" x2="1284.61" y2="2039.33" stroke="#C55F14" stroke-width="1.5"/>
<rect x="1271.3" y="1936.3" width="20.8" height="63.7" fill="#F47B20" stroke="#C55F14" stroke-width="1.6"/>
<line x1="1271.3" y1="1973.67" x2="1292.1" y2="1973.67" stroke="#C55F14" stroke-width="1.5"/>
<path d="M1274.7 1963.1L1288.7 1977.1M1274.7 1977.1L1288.7 1963.1" stroke="#C55F14" stroke-width="1.4" fill="none"/>
<line x1="1304.1" y1="1954.17" x2="1304.1" y2="1987" stroke="#7C7C7C" stroke-width="1.5"/>
<line x1="1304.1" y1="2010.4" x2="1304.1" y2="2039.33" stroke="#7C7C7C" stroke-width="1.5"/>
<line x1="1301.19" y1="1954.17" x2="1307.01" y2="1954.17" stroke="#7C7C7C" stroke-width="1.5"/>
<line x1="1301.19" y1="2039.33" x2="1307.01" y2="2039.33" stroke="#7C7C7C" stroke-width="1.5"/>
<rect x="1293.7" y="1987" width="20.8" height="23.4" fill="#A3A3A3" stroke="#7C7C7C" stroke-width="1.6"/>
<line x1="1293.7" y1="1996.75" x2="1314.5" y2="1996.75" stroke="#7C7C7C" stroke-width="1.5"/>
<path d="M1297.1 1991.05L1311.1 2005.05M1297.1 2005.05L1311.1 1991.05" stroke="#7C7C7C" stroke-width="1.4" fill="none"/>
<circle cx="1304.1" cy="1918.75" r="3.4" fill="#A3A3A3" stroke="#7C7C7C" stroke-width="1.3"/>
<circle cx="1304.1" cy="1945.08" r="3.4" fill="#A3A3A3" stroke="#7C7C7C" stroke-width="1.3"/>
<circle cx="1304.1" cy="2052" r="3.4" fill="#A3A3A3" stroke="#7C7C7C" stroke-width="1.3"/>
<circle cx="1304.1" cy="2061.43" r="3.4" fill="#A3A3A3" stroke="#7C7C7C" stroke-width="1.3"/>
<text transform="translate(1282.58 2148.7) scale(1 1.08)" font-size="22.5" fill="#000" text-anchor="middle" stroke="#000" stroke-width="0.3">T19</text>
<line x1="1392.45" y1="1880.08" x2="1392.45" y2="1921.35" stroke="#3470AE" stroke-width="1.5"/>
<line x1="1392.45" y1="1968.15" x2="1392.45" y2="2025.67" stroke="#3470AE" stroke-width="1.5"/>
<line x1="1389.54" y1="1880.08" x2="1395.36" y2="1880.08" stroke="#3470AE" stroke-width="1.5"/>
<line x1="1389.54" y1="2025.67" x2="1395.36" y2="2025.67" stroke="#3470AE" stroke-width="1.5"/>
<rect x="1382.05" y="1921.35" width="20.8" height="46.8" fill="#4E94DA" stroke="#3470AE" stroke-width="1.6"/>
<line x1="1382.05" y1="1941.17" x2="1402.85" y2="1941.17" stroke="#3470AE" stroke-width="1.5"/>
<path d="M1385.45 1939.38L1399.45 1953.38M1385.45 1953.38L1399.45 1939.38" stroke="#3470AE" stroke-width="1.4" fill="none"/>
<circle cx="1392.45" cy="2035.42" r="3.4" fill="#4E94DA" stroke="#3470AE" stroke-width="1.3"/>
<circle cx="1392.45" cy="2045.83" r="3.4" fill="#4E94DA" stroke="#3470AE" stroke-width="1.3"/>
<line x1="1414.85" y1="1906.4" x2="1414.85" y2="1933.38" stroke="#C55F14" stroke-width="1.5"/>
<line x1="1414.85" y1="2008.12" x2="1414.85" y2="2048.75" stroke="#C55F14" stroke-width="1.5"/>
<line x1="1411.94" y1="1906.4" x2="1417.76" y2="1906.4" stroke="#C55F14" stroke-width="1.5"/>
<line x1="1411.94" y1="2048.75" x2="1417.76" y2="2048.75" stroke="#C55F14" stroke-width="1.5"/>
<rect x="1404.45" y="1933.38" width="20.8" height="74.75" fill="#F47B20" stroke="#C55F14" stroke-width="1.6"/>
<line x1="1404.45" y1="1977.58" x2="1425.25" y2="1977.58" stroke="#C55F14" stroke-width="1.5"/>
<path d="M1407.85 1965.38L1421.85 1979.38M1407.85 1979.38L1421.85 1965.38" stroke="#C55F14" stroke-width="1.4" fill="none"/>
<line x1="1437.25" y1="1950.6" x2="1437.25" y2="1990.58" stroke="#7C7C7C" stroke-width="1.5"/>
<line x1="1437.25" y1="2022.42" x2="1437.25" y2="2071.82" stroke="#7C7C7C" stroke-width="1.5"/>
<line x1="1434.34" y1="1950.6" x2="1440.16" y2="1950.6" stroke="#7C7C7C" stroke-width="1.5"/>
<line x1="1434.34" y1="2071.82" x2="1440.16" y2="2071.82" stroke="#7C7C7C" stroke-width="1.5"/>
<rect x="1426.85" y="1990.58" width="20.8" height="31.85" fill="#A3A3A3" stroke="#7C7C7C" stroke-width="1.6"/>
<line x1="1426.85" y1="2010.08" x2="1447.65" y2="2010.08" stroke="#7C7C7C" stroke-width="1.5"/>
<path d="M1430.25 1999.83L1444.25 2013.83M1430.25 2013.83L1444.25 1999.83" stroke="#7C7C7C" stroke-width="1.4" fill="none"/>
<circle cx="1437.25" cy="1911.92" r="3.4" fill="#A3A3A3" stroke="#7C7C7C" stroke-width="1.3"/>
<circle cx="1437.25" cy="1937.92" r="3.4" fill="#A3A3A3" stroke="#7C7C7C" stroke-width="1.3"/>
<circle cx="1437.25" cy="2080.93" r="3.4" fill="#A3A3A3" stroke="#7C7C7C" stroke-width="1.3"/>
<text transform="translate(1415.42 2148.7) scale(1 1.08)" font-size="22.5" fill="#000" text-anchor="middle" stroke="#000" stroke-width="0.3">T01</text>
<line x1="1525.6" y1="1886.9" x2="1525.6" y2="1931.75" stroke="#3470AE" stroke-width="1.5"/>
<line x1="1525.6" y1="1964.58" x2="1525.6" y2="2012.35" stroke="#3470AE" stroke-width="1.5"/>
<line x1="1522.69" y1="1886.9" x2="1528.51" y2="1886.9" stroke="#3470AE" stroke-width="1.5"/>
<line x1="1522.69" y1="2012.35" x2="1528.51" y2="2012.35" stroke="#3470AE" stroke-width="1.5"/>
<rect x="1515.2" y="1931.75" width="20.8" height="32.83" fill="#4E94DA" stroke="#3470AE" stroke-width="1.6"/>
<line x1="1515.2" y1="1948.65" x2="1536" y2="1948.65" stroke="#3470AE" stroke-width="1.5"/>
<path d="M1518.6 1941L1532.6 1955M1518.6 1955L1532.6 1941" stroke="#3470AE" stroke-width="1.4" fill="none"/>
<circle cx="1525.6" cy="1870.65" r="3.4" fill="#4E94DA" stroke="#3470AE" stroke-width="1.3"/>
<circle cx="1525.6" cy="1880.08" r="3.4" fill="#4E94DA" stroke="#3470AE" stroke-width="1.3"/>
<circle cx="1525.6" cy="2026.33" r="3.4" fill="#4E94DA" stroke="#3470AE" stroke-width="1.3"/>
<line x1="1548" y1="1883" x2="1548" y2="1933.38" stroke="#C55F14" stroke-width="1.5"/>
<line x1="1548" y1="2002.92" x2="1548" y2="2039.33" stroke="#C55F14" stroke-width="1.5"/>
<line x1="1545.09" y1="1883" x2="1550.91" y2="1883" stroke="#C55F14" stroke-width="1.5"/>
<line x1="1545.09" y1="2039.33" x2="1550.91" y2="2039.33" stroke="#C55F14" stroke-width="1.5"/>
<rect x="1537.6" y="1933.38" width="20.8" height="69.55" fill="#F47B20" stroke="#C55F14" stroke-width="1.6"/>
<line x1="1537.6" y1="1960.67" x2="1558.4" y2="1960.67" stroke="#C55F14" stroke-width="1.5"/>
<path d="M1541 1961.8L1555 1975.8M1541 1975.8L1555 1961.8" stroke="#C55F14" stroke-width="1.4" fill="none"/>
<line x1="1570.4" y1="1941.17" x2="1570.4" y2="1970.42" stroke="#7C7C7C" stroke-width="1.5"/>
<line x1="1570.4" y1="2000" x2="1570.4" y2="2035.42" stroke="#7C7C7C" stroke-width="1.5"/>
<line x1="1567.49" y1="1941.17" x2="1573.31" y2="1941.17" stroke="#7C7C7C" stroke-width="1.5"/>
<line x1="1567.49" y1="2035.42" x2="1573.31" y2="2035.42" stroke="#7C7C7C" stroke-width="1.5"/>
<rect x="1560" y="1970.42" width="20.8" height="29.58" fill="#A3A3A3" stroke="#7C7C7C" stroke-width="1.6"/>
<line x1="1560" y1="1983.75" x2="1580.8" y2="1983.75" stroke="#7C7C7C" stroke-width="1.5"/>
<path d="M1563.4 1978.7L1577.4 1992.7M1563.4 1992.7L1577.4 1978.7" stroke="#7C7C7C" stroke-width="1.4" fill="none"/>
<circle cx="1570.4" cy="1911.92" r="3.4" fill="#A3A3A3" stroke="#7C7C7C" stroke-width="1.3"/>
<circle cx="1570.4" cy="2045.5" r="3.4" fill="#A3A3A3" stroke="#7C7C7C" stroke-width="1.3"/>
<circle cx="1570.4" cy="2055.57" r="3.4" fill="#A3A3A3" stroke="#7C7C7C" stroke-width="1.3"/>
<text transform="translate(1548.25 2148.7) scale(1 1.08)" font-size="22.5" fill="#000" text-anchor="middle" stroke="#000" stroke-width="0.3">T04</text>
<line x1="1658.75" y1="1870.65" x2="1658.75" y2="1915.5" stroke="#3470AE" stroke-width="1.5"/>
<line x1="1658.75" y1="1961.33" x2="1658.75" y2="2016.25" stroke="#3470AE" stroke-width="1.5"/>
<line x1="1655.84" y1="1870.65" x2="1661.66" y2="1870.65" stroke="#3470AE" stroke-width="1.5"/>
<line x1="1655.84" y1="2016.25" x2="1661.66" y2="2016.25" stroke="#3470AE" stroke-width="1.5"/>
<rect x="1648.35" y="1915.5" width="20.8" height="45.83" fill="#4E94DA" stroke="#3470AE" stroke-width="1.6"/>
<line x1="1648.35" y1="1938.9" x2="1669.15" y2="1938.9" stroke="#3470AE" stroke-width="1.5"/>
<path d="M1651.75 1931.25L1665.75 1945.25M1651.75 1945.25L1665.75 1931.25" stroke="#3470AE" stroke-width="1.4" fill="none"/>
<line x1="1681.15" y1="1896.33" x2="1681.15" y2="1921.35" stroke="#C55F14" stroke-width="1.5"/>
<line x1="1681.15" y1="2010.72" x2="1681.15" y2="2054.93" stroke="#C55F14" stroke-width="1.5"/>
<line x1="1678.24" y1="1896.33" x2="1684.06" y2="1896.33" stroke="#C55F14" stroke-width="1.5"/>
<line x1="1678.24" y1="2054.93" x2="1684.06" y2="2054.93" stroke="#C55F14" stroke-width="1.5"/>
<rect x="1670.75" y="1921.35" width="20.8" height="89.38" fill="#F47B20" stroke="#C55F14" stroke-width="1.6"/>
<line x1="1670.75" y1="1970.1" x2="1691.55" y2="1970.1" stroke="#C55F14" stroke-width="1.5"/>
<path d="M1674.15 1960.5L1688.15 1974.5M1674.15 1974.5L1688.15 1960.5" stroke="#C55F14" stroke-width="1.4" fill="none"/>
<line x1="1703.55" y1="1945.08" x2="1703.55" y2="1983.75" stroke="#7C7C7C" stroke-width="1.5"/>
<line x1="1703.55" y1="2013" x2="1703.55" y2="2052" stroke="#7C7C7C" stroke-width="1.5"/>
<line x1="1700.64" y1="1945.08" x2="1706.46" y2="1945.08" stroke="#7C7C7C" stroke-width="1.5"/>
<line x1="1700.64" y1="2052" x2="1706.46" y2="2052" stroke="#7C7C7C" stroke-width="1.5"/>
<rect x="1693.15" y="1983.75" width="20.8" height="29.25" fill="#A3A3A3" stroke="#7C7C7C" stroke-width="1.6"/>
<line x1="1693.15" y1="1997.08" x2="1713.95" y2="1997.08" stroke="#7C7C7C" stroke-width="1.5"/>
<path d="M1696.55 1991.7L1710.55 2005.7M1696.55 2005.7L1710.55 1991.7" stroke="#7C7C7C" stroke-width="1.4" fill="none"/>
<circle cx="1703.55" cy="1908.67" r="3.4" fill="#A3A3A3" stroke="#7C7C7C" stroke-width="1.3"/>
<circle cx="1703.55" cy="1935" r="3.4" fill="#A3A3A3" stroke="#7C7C7C" stroke-width="1.3"/>
<circle cx="1703.55" cy="2061.1" r="3.4" fill="#A3A3A3" stroke="#7C7C7C" stroke-width="1.3"/>
<circle cx="1703.55" cy="2075.07" r="3.4" fill="#A3A3A3" stroke="#7C7C7C" stroke-width="1.3"/>
<text transform="translate(1681.08 2148.7) scale(1 1.08)" font-size="22.5" fill="#000" text-anchor="middle" stroke="#000" stroke-width="0.3">T08</text>
<rect x="1212.65" y="1737.35" width="16.6" height="16.6" fill="#4E94DA" stroke="#3470AE" stroke-width="1.3"/>
<text transform="translate(1239.7 1753.8) scale(1 1.06)" font-size="22.6" fill="#000" stroke="#000" stroke-width="0.3">ASR</text>
<rect x="1299.75" y="1737.35" width="16.6" height="16.6" fill="#F47B20" stroke="#C55F14" stroke-width="1.3"/>
<text transform="translate(1325.5 1753.8) scale(1 1.06)" font-size="22.6" fill="#000" stroke="#000" stroke-width="0.3">FTB</text>
<rect x="1384.55" y="1737.35" width="16.6" height="16.6" fill="#A3A3A3" stroke="#7C7C7C" stroke-width="1.3"/>
<text transform="translate(1410.4 1753.8) scale(1 1.06)" font-size="22.6" fill="#000" stroke="#000" stroke-width="0.3">SFR</text>
<text x="1305.2" y="1699.8" font-size="28" fill="#000">(</text>
<text x="1342" y="1699.8" font-size="28" fill="#000">)</text>
<text x="1315.2" y="1700.7" font-size="32.5" fill="#404040" textLength="24.6" lengthAdjust="spacingAndGlyphs">IV</text>
</svg>
</body></html>
